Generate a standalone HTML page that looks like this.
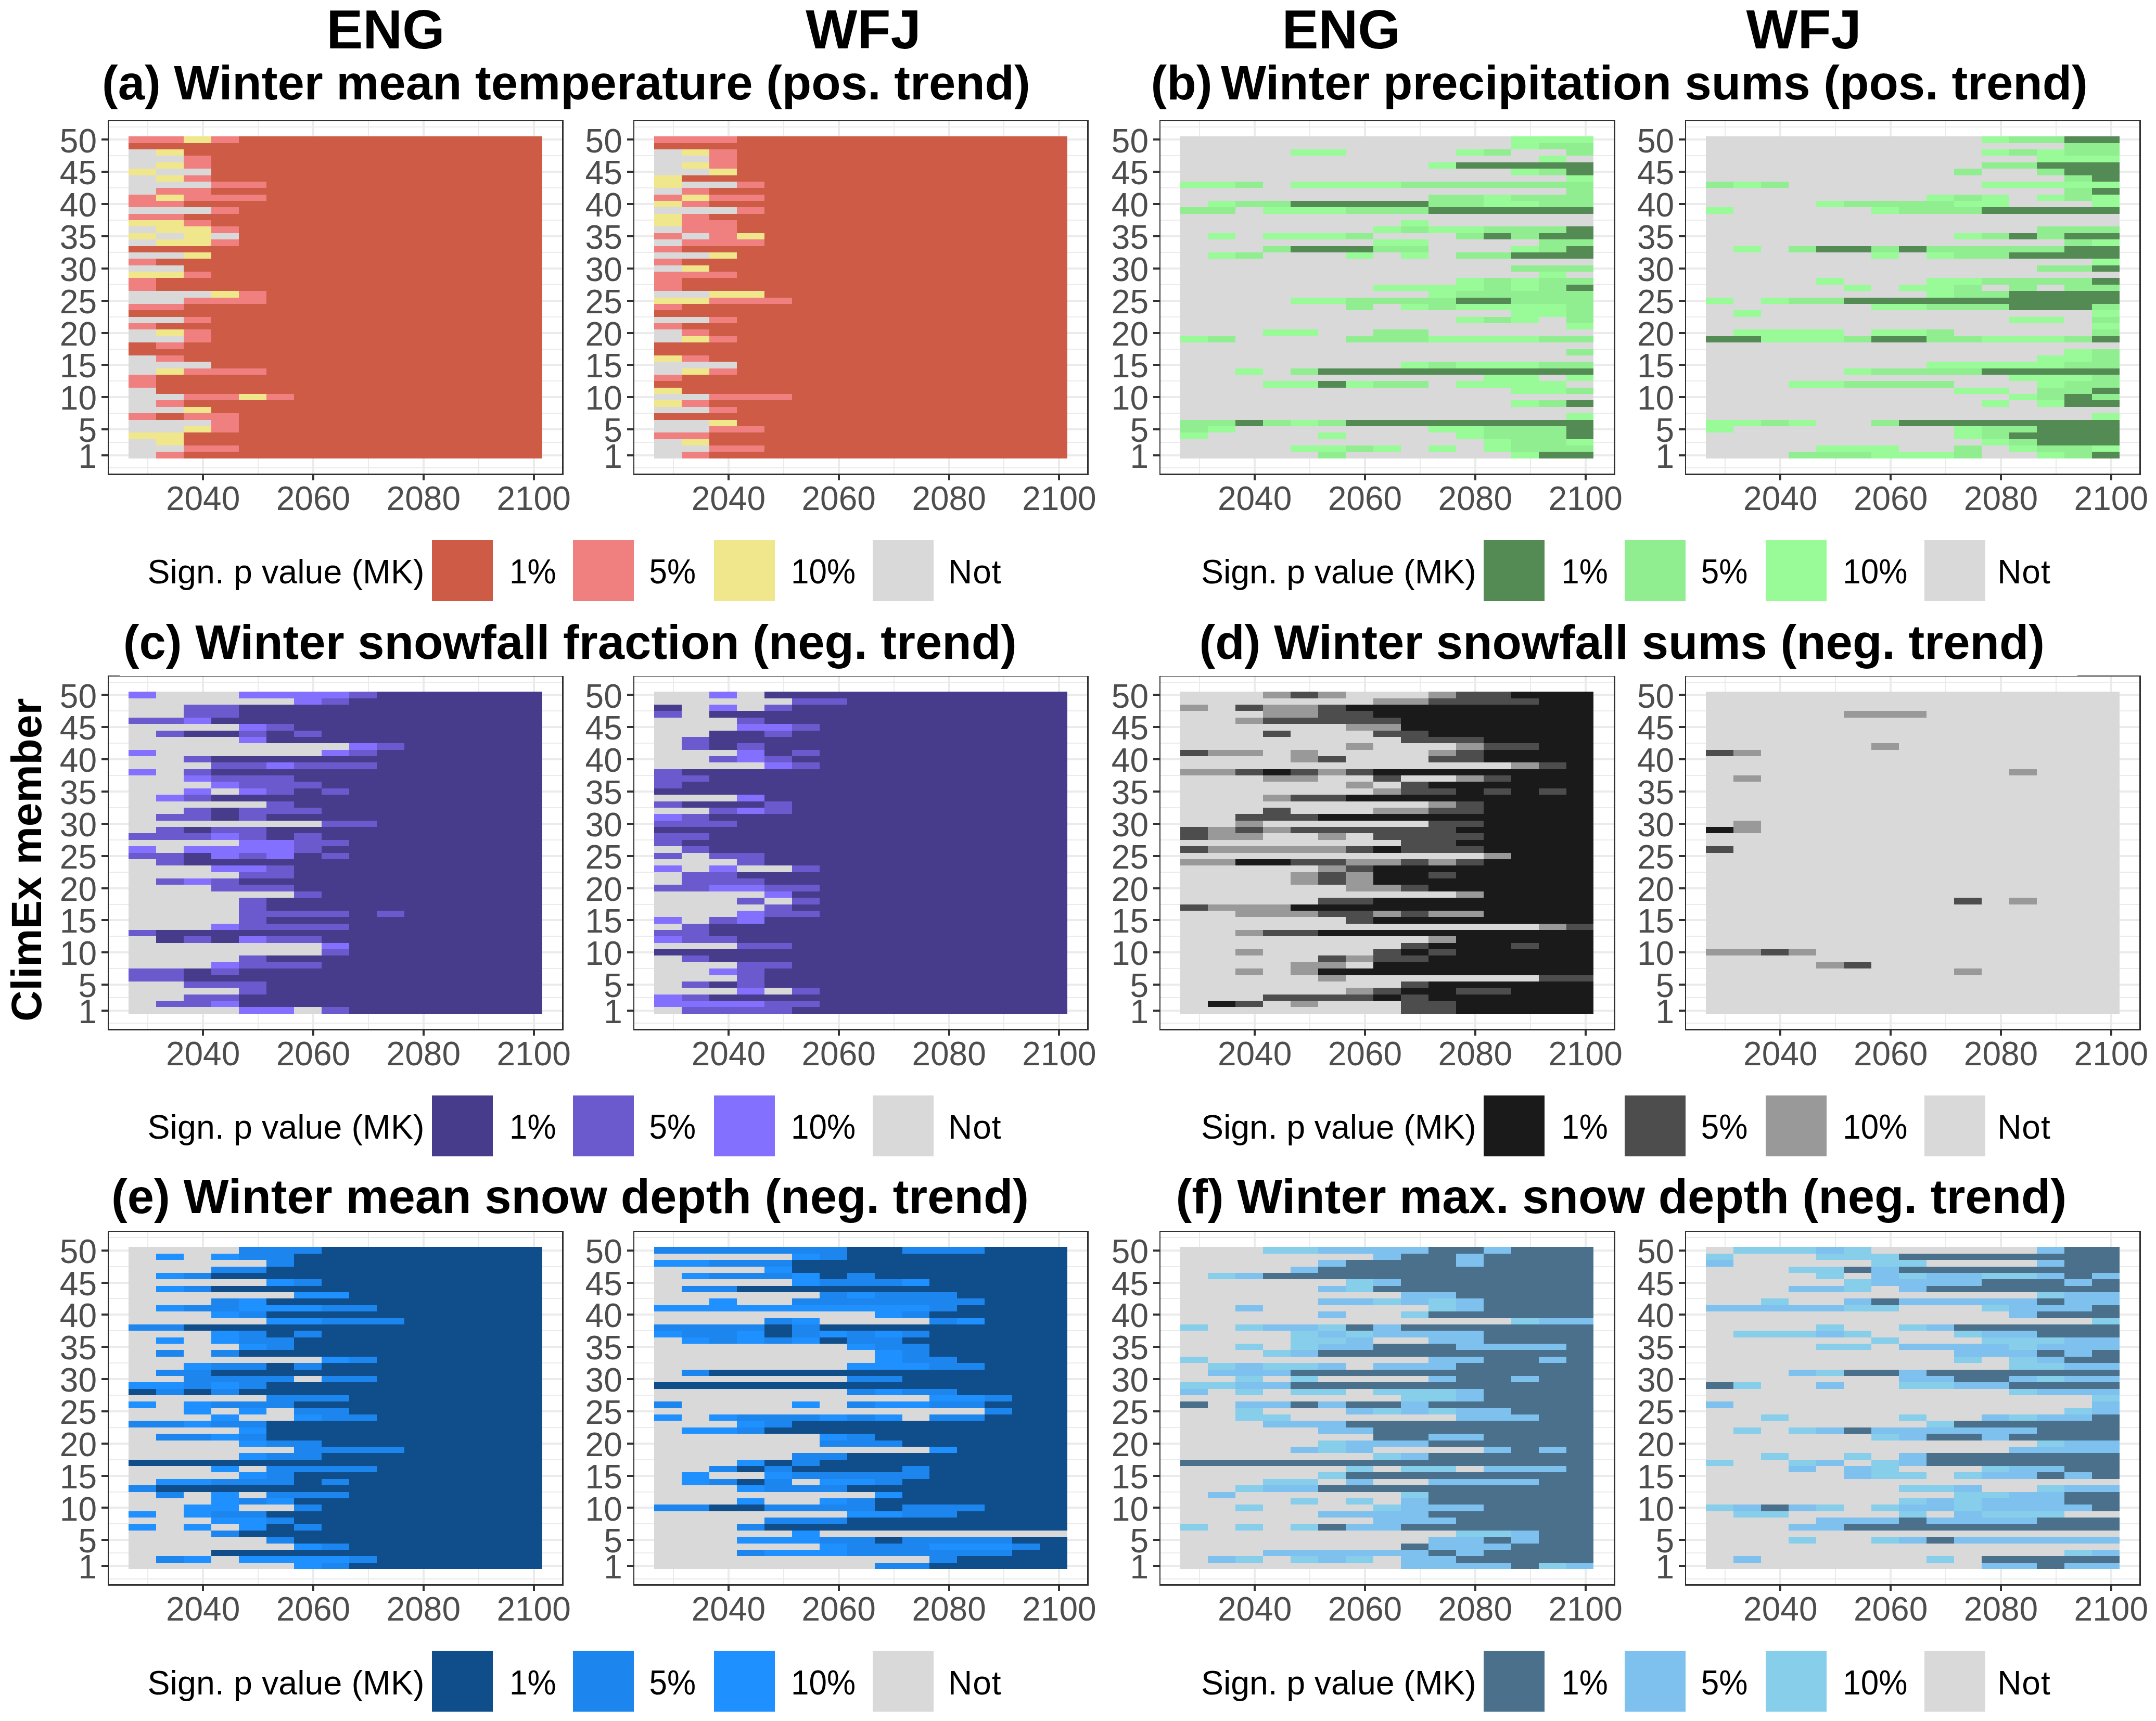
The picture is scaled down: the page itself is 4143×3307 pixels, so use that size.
<!DOCTYPE html>
<html><head><meta charset="utf-8"><title>Trend significance heatmaps</title>
<style>html,body{margin:0;padding:0;background:#fff}svg{display:block}text{font-family:"Liberation Sans",sans-serif}.ax{font-size:64px;fill:#4D4D4D}.lg{font-size:64.5px;fill:#000}.tt{font-size:92.3px;font-weight:bold;fill:#000}.lp{font-size:62px;fill:#000}.hd{font-size:105px;font-weight:bold;fill:#000;text-anchor:middle}</style></head><body>
<svg width="4143" height="3307" viewBox="0 0 4143 3307">
<rect width="4143" height="3307" fill="#fff"/>
<g shape-rendering="crispEdges"><path d="M209 899H1079.6M209 850H1079.6M209 794H1079.6M209 732H1079.6M209 671H1079.6M209 609H1079.6M209 547H1079.6M209 485H1079.6M209 423H1079.6M209 361H1079.6M209 299H1079.6M209 244H1079.6M284 233V910M496 233V910M708 233V910M920 233V910" stroke="#EBEBEB" stroke-width="2" fill="none"/><path d="M209 875H1079.6M209 825H1079.6M209 763H1079.6M209 701H1079.6M209 640H1079.6M209 578H1079.6M209 516H1079.6M209 454H1079.6M209 392H1079.6M209 330H1079.6M209 268H1079.6M390 233V910M602 233V910M814 233V910M1026 233V910" stroke="#EBEBEB" stroke-width="4" fill="none"/><rect x="247" y="262" width="795" height="619" fill="#CD5B45"/><path d="M247 287h53v12h-53zM247 299h106v13h-106zM247 312h53v12h-53zM300 324h106v13h-106zM247 337h53v12h-53zM247 349h159v12h-159zM247 361h53v13h-53zM247 398h159v13h-159zM247 435h53v13h-53zM300 448h53v12h-53zM406 448h53v12h-53zM247 460h53v13h-53zM247 485h106v12h-106zM247 510h106v12h-106zM247 559h159v13h-159zM247 572h106v12h-106zM247 609h106v12h-106zM247 633h53v13h-53zM247 646h106v12h-106zM247 683h53v12h-53zM247 695h159v13h-159zM247 708h53v12h-53zM247 745h53v12h-53zM247 757h106v12h-106zM247 769h53v13h-53zM247 782h106v12h-106zM247 807h159v12h-159zM247 819h106v12h-106zM247 844h53v12h-53zM247 856h106v12h-106zM247 868h53v13h-53z" fill="#D9D9D9"/><path d="M353 262h53v13h-53zM300 287h53v12h-53zM300 312h53v12h-53zM247 324h53v13h-53zM300 337h53v12h-53zM300 374h53v12h-53zM247 423h106v12h-106zM300 435h106v13h-106zM247 448h53v12h-53zM353 448h53v12h-53zM300 460h106v13h-106zM353 485h53v12h-53zM247 522h106v12h-106zM406 559h53v13h-53zM300 633h53v13h-53zM300 708h53v12h-53zM459 757h53v12h-53zM353 782h53v12h-53zM353 819h53v12h-53zM247 831h106v13h-106zM300 844h53v12h-53z" fill="#F0E68C"/><path d="M247 262h106v13h-106zM406 262h53v13h-53zM353 299h53v13h-53zM353 312h53v12h-53zM353 337h53v12h-53zM406 349h106v12h-106zM300 361h106v13h-106zM247 374h53v12h-53zM353 374h159v12h-159zM247 386h106v12h-106zM406 398h53v13h-53zM247 411h106v12h-106zM353 423h53v12h-53zM406 435h53v13h-53zM406 460h53v13h-53zM247 497h53v13h-53zM353 522h53v12h-53zM247 534h53v13h-53zM247 547h53v12h-53zM459 559h53v13h-53zM353 572h159v12h-159zM247 584h106v12h-106zM353 609h53v12h-53zM247 621h53v12h-53zM353 633h53v13h-53zM353 646h53v12h-53zM300 658h53v13h-53zM300 683h53v12h-53zM353 708h159v12h-159zM247 720h53v12h-53zM247 732h53v13h-53zM353 757h106v12h-106zM512 757h53v12h-53zM300 769h53v13h-53zM247 794h53v13h-53zM353 794h106v13h-106zM406 807h53v12h-53zM406 819h53v12h-53zM353 856h106v12h-106zM300 868h53v13h-53z" fill="#F08080"/><path d="M195 875H207M195 825H207M195 763H207M195 701H207M195 640H207M195 578H207M195 516H207M195 454H207M195 392H207M195 330H207M195 268H207M390 913V923M602 913V923M814 913V923M1026 913V923" stroke="#333" stroke-width="4" fill="none"/><path d="M207 231H1083V913H207z M209 233V910H1080V233z" fill="#303030" fill-rule="evenodd"/></g>
<text class="ax" text-anchor="end" x="186" y="898.6">1</text><text class="ax" text-anchor="end" x="186" y="849.1">5</text><text class="ax" text-anchor="end" x="186" y="787.3">10</text><text class="ax" text-anchor="end" x="186" y="725.4">15</text><text class="ax" text-anchor="end" x="186" y="663.6">20</text><text class="ax" text-anchor="end" x="186" y="601.7">25</text><text class="ax" text-anchor="end" x="186" y="539.9">30</text><text class="ax" text-anchor="end" x="186" y="478">35</text><text class="ax" text-anchor="end" x="186" y="416.2">40</text><text class="ax" text-anchor="end" x="186" y="354.3">45</text><text class="ax" text-anchor="end" x="186" y="292.5">50</text><text class="ax" text-anchor="middle" x="390.1" y="979.5">2040</text><text class="ax" text-anchor="middle" x="601.9" y="979.5">2060</text><text class="ax" text-anchor="middle" x="813.8" y="979.5">2080</text><text class="ax" text-anchor="middle" x="1025.6" y="979.5">2100</text>
<g shape-rendering="crispEdges"><path d="M1218.8 899H2089.4M1218.8 850H2089.4M1218.8 794H2089.4M1218.8 732H2089.4M1218.8 671H2089.4M1218.8 609H2089.4M1218.8 547H2089.4M1218.8 485H2089.4M1218.8 423H2089.4M1218.8 361H2089.4M1218.8 299H2089.4M1218.8 244H2089.4M1294 233V910M1506 233V910M1718 233V910M1929 233V910" stroke="#EBEBEB" stroke-width="2" fill="none"/><path d="M1218.8 875H2089.4M1218.8 825H2089.4M1218.8 763H2089.4M1218.8 701H2089.4M1218.8 640H2089.4M1218.8 578H2089.4M1218.8 516H2089.4M1218.8 454H2089.4M1218.8 392H2089.4M1218.8 330H2089.4M1218.8 268H2089.4M1400 233V910M1612 233V910M1824 233V910M2035 233V910" stroke="#EBEBEB" stroke-width="4" fill="none"/><rect x="1257" y="262" width="794" height="619" fill="#CD5B45"/><path d="M1257 287h53v12h-53zM1257 299h106v13h-106zM1257 312h53v12h-53zM1257 324h106v13h-106zM1310 349h106v12h-106zM1257 361h53v13h-53zM1257 398h159v13h-159zM1257 435h53v13h-53zM1310 448h53v12h-53zM1257 460h53v13h-53zM1257 485h106v12h-106zM1257 510h53v12h-53zM1257 559h106v13h-106zM1257 609h106v12h-106zM1257 633h53v13h-53zM1257 646h53v12h-53zM1257 695h159v13h-159zM1257 708h53v12h-53zM1257 757h106v12h-106zM1257 782h106v12h-106zM1257 807h106v12h-106zM1257 819h106v12h-106zM1257 844h53v12h-53zM1257 856h106v12h-106zM1257 868h53v13h-53z" fill="#D9D9D9"/><path d="M1310 287h53v12h-53zM1310 312h53v12h-53zM1363 324h53v13h-53zM1257 337h53v12h-53zM1257 349h53v12h-53zM1310 374h53v12h-53zM1257 386h53v12h-53zM1257 411h53v12h-53zM1257 423h53v12h-53zM1416 448h53v12h-53zM1363 485h53v12h-53zM1310 510h53v12h-53zM1363 559h106v13h-106zM1257 572h106v12h-106zM1310 646h53v12h-53zM1257 683h53v12h-53zM1310 708h53v12h-53zM1257 745h53v12h-53zM1257 769h53v13h-53zM1363 807h53v12h-53zM1310 844h53v12h-53z" fill="#F0E68C"/><path d="M1257 262h159v13h-159zM1363 287h53v12h-53zM1363 299h53v13h-53zM1363 312h53v12h-53zM1416 349h53v12h-53zM1310 361h53v13h-53zM1257 374h53v12h-53zM1363 374h106v12h-106zM1310 386h53v12h-53zM1416 398h53v13h-53zM1310 411h53v12h-53zM1310 423h106v12h-106zM1310 435h106v13h-106zM1257 448h53v12h-53zM1363 448h53v12h-53zM1310 460h159v13h-159zM1257 473h53v12h-53zM1257 497h53v13h-53zM1257 522h159v12h-159zM1257 534h53v13h-53zM1257 547h53v12h-53zM1363 572h159v12h-159zM1257 584h53v12h-53zM1363 609h53v12h-53zM1257 621h53v12h-53zM1310 633h53v13h-53zM1363 646h53v12h-53zM1310 683h53v12h-53zM1363 708h53v12h-53zM1257 720h53v12h-53zM1363 757h159v12h-159zM1310 769h53v13h-53zM1363 782h53v12h-53zM1363 819h106v12h-106zM1257 831h106v13h-106zM1363 856h106v12h-106zM1310 868h53v13h-53z" fill="#F08080"/><path d="M1205 875H1217M1205 825H1217M1205 763H1217M1205 701H1217M1205 640H1217M1205 578H1217M1205 516H1217M1205 454H1217M1205 392H1217M1205 330H1217M1205 268H1217M1400 913V923M1612 913V923M1824 913V923M2035 913V923" stroke="#333" stroke-width="4" fill="none"/><path d="M1217 231H2092V913H1217z M1219 233V910H2089V233z" fill="#303030" fill-rule="evenodd"/></g>
<text class="ax" text-anchor="end" x="1195.8" y="898.6">1</text><text class="ax" text-anchor="end" x="1195.8" y="849.1">5</text><text class="ax" text-anchor="end" x="1195.8" y="787.3">10</text><text class="ax" text-anchor="end" x="1195.8" y="725.4">15</text><text class="ax" text-anchor="end" x="1195.8" y="663.6">20</text><text class="ax" text-anchor="end" x="1195.8" y="601.7">25</text><text class="ax" text-anchor="end" x="1195.8" y="539.9">30</text><text class="ax" text-anchor="end" x="1195.8" y="478">35</text><text class="ax" text-anchor="end" x="1195.8" y="416.2">40</text><text class="ax" text-anchor="end" x="1195.8" y="354.3">45</text><text class="ax" text-anchor="end" x="1195.8" y="292.5">50</text><text class="ax" text-anchor="middle" x="1399.9" y="979.5">2040</text><text class="ax" text-anchor="middle" x="1611.7" y="979.5">2060</text><text class="ax" text-anchor="middle" x="1823.6" y="979.5">2080</text><text class="ax" text-anchor="middle" x="2035.4" y="979.5">2100</text>
<g shape-rendering="crispEdges"><path d="M2230 899H3100.6M2230 850H3100.6M2230 794H3100.6M2230 732H3100.6M2230 671H3100.6M2230 609H3100.6M2230 547H3100.6M2230 485H3100.6M2230 423H3100.6M2230 361H3100.6M2230 299H3100.6M2230 244H3100.6M2305 233V910M2517 233V910M2729 233V910M2941 233V910" stroke="#EBEBEB" stroke-width="2" fill="none"/><path d="M2230 875H3100.6M2230 825H3100.6M2230 763H3100.6M2230 701H3100.6M2230 640H3100.6M2230 578H3100.6M2230 516H3100.6M2230 454H3100.6M2230 392H3100.6M2230 330H3100.6M2230 268H3100.6M2411 233V910M2623 233V910M2835 233V910M3047 233V910" stroke="#EBEBEB" stroke-width="4" fill="none"/><rect x="2268" y="262" width="794" height="619" fill="#D9D9D9"/><path d="M2904 262h158v13h-158zM2904 275h53v12h-53zM2480 287h106v12h-106zM2798 287h53v12h-53zM2957 299h53v13h-53zM2745 312h53v12h-53zM2904 324h53v13h-53zM3010 337h52v12h-52zM2268 349h106v12h-106zM2480 349h212v12h-212zM2851 374h53v12h-53zM2321 386h53v12h-53zM2851 386h106v12h-106zM2427 398h159v13h-159zM2692 423h53v12h-53zM2639 435h53v13h-53zM2745 435h106v13h-106zM2321 448h53v12h-53zM2427 448h159v12h-159zM2639 460h106v13h-106zM2904 473h53v12h-53zM2321 485h53v12h-53zM2586 485h53v12h-53zM2692 485h53v12h-53zM2957 522h53v12h-53zM2798 534h53v13h-53zM2904 534h53v13h-53zM2639 547h212v12h-212zM2904 547h53v12h-53zM2745 559h53v13h-53zM2480 572h106v12h-106zM2692 584h53v12h-53zM2798 584h212v12h-212zM2904 596h106v13h-106zM2798 609h53v12h-53zM2904 609h53v12h-53zM3010 621h52v12h-52zM2427 633h106v13h-106zM2268 646h53v12h-53zM2745 646h212v12h-212zM2692 695h53v13h-53zM2798 695h159v13h-159zM2374 708h53v12h-53zM2851 720h106v12h-106zM3010 720h52v12h-52zM2427 732h106v13h-106zM2586 732h53v13h-53zM2798 732h212v13h-212zM2904 745h106v12h-106zM2904 769h53v13h-53zM3010 794h52v13h-52zM2480 807h53v12h-53zM2321 819h53v12h-53zM2745 819h106v12h-106zM2268 831h53v13h-53zM2533 831h53v13h-53zM2798 831h53v13h-53zM2851 844h53v12h-53zM3010 844h52v12h-52zM2480 856h106v12h-106zM2639 856h53v12h-53zM2745 856h53v12h-53zM2851 856h53v12h-53zM2904 868h53v13h-53z" fill="#98FB98"/><path d="M2957 275h105v12h-105zM2851 287h53v12h-53zM3010 287h52v12h-52zM2957 324h53v13h-53zM2374 349h53v12h-53zM2692 349h370v12h-370zM3010 361h52v13h-52zM2745 374h106v12h-106zM2904 374h158v12h-158zM2374 386h106v12h-106zM2745 386h106v12h-106zM2957 386h105v12h-105zM2268 398h106v13h-106zM2586 398h159v13h-159zM2692 435h53v13h-53zM2851 435h159v13h-159zM2586 448h53v12h-53zM2798 448h53v12h-53zM2904 448h53v12h-53zM2957 460h105v13h-105zM2427 473h53v12h-53zM2639 473h106v12h-106zM2957 473h53v12h-53zM2374 485h53v12h-53zM2798 485h106v12h-106zM2904 510h158v12h-158zM2851 534h53v13h-53zM2957 534h105v13h-105zM2851 547h53v12h-53zM2957 547h53v12h-53zM2798 559h264v13h-264zM2586 572h212v12h-212zM2904 572h158v12h-158zM2586 584h53v12h-53zM2745 584h53v12h-53zM3010 584h52v12h-52zM3010 596h52v13h-52zM2851 609h53v12h-53zM3010 609h52v12h-52zM2639 633h106v13h-106zM2321 646h53v12h-53zM2586 646h159v12h-159zM2957 646h105v12h-105zM3010 671h52v12h-52zM2745 695h53v13h-53zM2957 695h105v13h-105zM2480 708h53v12h-53zM2639 732h106v13h-106zM3010 745h52v12h-52zM2957 769h53v13h-53zM2268 807h106v12h-106zM2427 807h53v12h-53zM2533 807h53v12h-53zM2268 819h53v12h-53zM2851 819h159v12h-159zM2851 831h159v13h-159zM2904 844h106v12h-106zM2586 856h53v12h-53zM2904 856h158v12h-158zM2533 868h53v13h-53z" fill="#90EE90"/><path d="M2798 312h264v12h-264zM3010 324h52v13h-52zM2480 386h265v12h-265zM2745 398h317v13h-317zM3010 435h52v13h-52zM2851 448h53v12h-53zM2957 448h105v12h-105zM2480 473h159v12h-159zM3010 473h52v12h-52zM2904 485h158v12h-158zM3010 547h52v12h-52zM2798 572h106v12h-106zM2533 708h529v12h-529zM2533 732h53v13h-53zM3010 769h52v13h-52zM2374 807h53v12h-53zM2586 807h476v12h-476zM3010 819h52v12h-52zM3010 831h52v13h-52zM2957 868h105v13h-105z" fill="#548B54"/><path d="M2216 875H2228M2216 825H2228M2216 763H2228M2216 701H2228M2216 640H2228M2216 578H2228M2216 516H2228M2216 454H2228M2216 392H2228M2216 330H2228M2216 268H2228M2411 913V923M2623 913V923M2835 913V923M3047 913V923" stroke="#333" stroke-width="4" fill="none"/><path d="M2228 231H3104V913H2228z M2230 233V910H3101V233z" fill="#303030" fill-rule="evenodd"/></g>
<text class="ax" text-anchor="end" x="2207" y="898.6">1</text><text class="ax" text-anchor="end" x="2207" y="849.1">5</text><text class="ax" text-anchor="end" x="2207" y="787.3">10</text><text class="ax" text-anchor="end" x="2207" y="725.4">15</text><text class="ax" text-anchor="end" x="2207" y="663.6">20</text><text class="ax" text-anchor="end" x="2207" y="601.7">25</text><text class="ax" text-anchor="end" x="2207" y="539.9">30</text><text class="ax" text-anchor="end" x="2207" y="478">35</text><text class="ax" text-anchor="end" x="2207" y="416.2">40</text><text class="ax" text-anchor="end" x="2207" y="354.3">45</text><text class="ax" text-anchor="end" x="2207" y="292.5">50</text><text class="ax" text-anchor="middle" x="2411.1" y="979.5">2040</text><text class="ax" text-anchor="middle" x="2622.9" y="979.5">2060</text><text class="ax" text-anchor="middle" x="2834.8" y="979.5">2080</text><text class="ax" text-anchor="middle" x="3046.6" y="979.5">2100</text>
<g shape-rendering="crispEdges"><path d="M3240.2 899H4110.8M3240.2 850H4110.8M3240.2 794H4110.8M3240.2 732H4110.8M3240.2 671H4110.8M3240.2 609H4110.8M3240.2 547H4110.8M3240.2 485H4110.8M3240.2 423H4110.8M3240.2 361H4110.8M3240.2 299H4110.8M3240.2 244H4110.8M3315 233V910M3527 233V910M3739 233V910M3951 233V910" stroke="#EBEBEB" stroke-width="2" fill="none"/><path d="M3240.2 875H4110.8M3240.2 825H4110.8M3240.2 763H4110.8M3240.2 701H4110.8M3240.2 640H4110.8M3240.2 578H4110.8M3240.2 516H4110.8M3240.2 454H4110.8M3240.2 392H4110.8M3240.2 330H4110.8M3240.2 268H4110.8M3421 233V910M3633 233V910M3845 233V910M4057 233V910" stroke="#EBEBEB" stroke-width="4" fill="none"/><rect x="3278" y="262" width="795" height="619" fill="#D9D9D9"/><path d="M3808 262h53v13h-53zM3808 287h53v12h-53zM3914 287h53v12h-53zM3914 299h159v13h-159zM3331 349h53v12h-53zM3808 349h265v12h-265zM3702 374h53v12h-53zM3808 374h53v12h-53zM3914 374h53v12h-53zM4020 374h53v12h-53zM3490 386h53v12h-53zM3755 386h106v12h-106zM4020 386h53v12h-53zM3278 398h53v13h-53zM3596 398h53v13h-53zM3755 448h53v12h-53zM4020 460h53v13h-53zM3331 473h53v12h-53zM3596 485h53v12h-53zM3702 485h53v12h-53zM4020 497h53v13h-53zM3490 534h53v13h-53zM3702 534h106v13h-106zM3543 547h53v12h-53zM3649 547h106v12h-106zM3702 559h53v13h-53zM3278 572h53v12h-53zM3384 572h53v12h-53zM3596 584h106v12h-106zM3331 596h53v13h-53zM4020 596h53v13h-53zM3861 609h106v12h-106zM4020 621h53v12h-53zM3331 633h212v13h-212zM3596 633h106v13h-106zM3384 646h159v12h-159zM3808 646h159v12h-159zM3967 671h53v12h-53zM3914 683h106v12h-106zM3702 695h265v13h-265zM3543 708h53v12h-53zM3861 720h159v12h-159zM3437 732h106v13h-106zM3914 732h53v13h-53zM3755 745h106v12h-106zM3861 757h53v12h-53zM3808 769h53v13h-53zM3914 769h53v13h-53zM4020 794h53v13h-53zM3278 807h106v12h-106zM3437 807h53v12h-53zM3278 819h53v12h-53zM3755 819h53v12h-53zM3755 831h53v13h-53zM3808 844h53v12h-53zM3490 856h159v12h-159zM3861 856h53v12h-53zM4020 856h53v12h-53zM3596 868h159v13h-159zM3914 868h53v13h-53z" fill="#98FB98"/><path d="M3861 262h106v13h-106zM3967 275h106v12h-106zM3861 287h53v12h-53zM3967 287h106v12h-106zM3808 312h106v12h-106zM3755 324h53v13h-53zM3914 324h53v13h-53zM3967 337h53v12h-53zM3278 349h53v12h-53zM3384 349h53v12h-53zM3967 361h53v13h-53zM3755 374h53v12h-53zM3967 374h53v12h-53zM3543 386h212v12h-212zM3649 398h159v13h-159zM3914 435h159v13h-159zM3808 448h53v12h-53zM3914 448h53v12h-53zM3967 460h53v13h-53zM3437 473h53v12h-53zM3596 473h53v12h-53zM3702 473h265v12h-265zM3755 485h106v12h-106zM3914 510h106v12h-106zM3808 534h212v13h-212zM3755 547h53v12h-53zM3861 547h53v12h-53zM3967 547h106v12h-106zM3755 559h106v13h-106zM3437 572h106v12h-106zM3702 584h159v12h-159zM4020 584h53v12h-53zM4020 609h53v12h-53zM3702 633h53v13h-53zM4020 633h53v13h-53zM3543 646h53v12h-53zM3702 646h106v12h-106zM3967 646h53v12h-53zM4020 671h53v12h-53zM4020 683h53v12h-53zM3967 695h106v13h-106zM3596 708h212v12h-212zM4020 720h53v12h-53zM3543 732h212v13h-212zM3967 732h106v13h-106zM3914 745h106v12h-106zM3914 757h53v12h-53zM4020 757h53v12h-53zM3384 807h53v12h-53zM3596 807h53v12h-53zM3808 819h106v12h-106zM3808 831h53v13h-53zM3861 844h53v12h-53zM3755 856h53v12h-53zM3914 856h106v12h-106zM3437 868h159v13h-159zM3755 868h53v13h-53zM3967 868h53v13h-53z" fill="#90EE90"/><path d="M3967 262h106v13h-106zM3914 312h159v12h-159zM3967 324h106v13h-106zM4020 337h53v12h-53zM4020 361h53v13h-53zM3808 398h265v13h-265zM3861 448h53v12h-53zM3967 448h106v12h-106zM3490 473h106v12h-106zM3649 473h53v12h-53zM3967 473h106v12h-106zM3861 485h212v12h-212zM4020 510h53v12h-53zM4020 534h53v13h-53zM3861 559h212v13h-212zM3543 572h530v12h-530zM3861 584h159v12h-159zM3278 646h106v12h-106zM3596 646h106v12h-106zM4020 646h53v12h-53zM3808 708h265v12h-265zM4020 745h53v12h-53zM3967 757h53v12h-53zM3967 769h106v13h-106zM3649 807h424v12h-424zM3914 819h159v12h-159zM3861 831h212v13h-212zM3914 844h159v12h-159zM4020 868h53v13h-53z" fill="#548B54"/><path d="M3226 875H3238M3226 825H3238M3226 763H3238M3226 701H3238M3226 640H3238M3226 578H3238M3226 516H3238M3226 454H3238M3226 392H3238M3226 330H3238M3226 268H3238M3421 913V923M3633 913V923M3845 913V923M4057 913V923" stroke="#333" stroke-width="4" fill="none"/><path d="M3238 231H4114V913H3238z M3240 233V910H4111V233z" fill="#303030" fill-rule="evenodd"/></g>
<text class="ax" text-anchor="end" x="3217.2" y="898.6">1</text><text class="ax" text-anchor="end" x="3217.2" y="849.1">5</text><text class="ax" text-anchor="end" x="3217.2" y="787.3">10</text><text class="ax" text-anchor="end" x="3217.2" y="725.4">15</text><text class="ax" text-anchor="end" x="3217.2" y="663.6">20</text><text class="ax" text-anchor="end" x="3217.2" y="601.7">25</text><text class="ax" text-anchor="end" x="3217.2" y="539.9">30</text><text class="ax" text-anchor="end" x="3217.2" y="478">35</text><text class="ax" text-anchor="end" x="3217.2" y="416.2">40</text><text class="ax" text-anchor="end" x="3217.2" y="354.3">45</text><text class="ax" text-anchor="end" x="3217.2" y="292.5">50</text><text class="ax" text-anchor="middle" x="3421.3" y="979.5">2040</text><text class="ax" text-anchor="middle" x="3633.1" y="979.5">2060</text><text class="ax" text-anchor="middle" x="3845" y="979.5">2080</text><text class="ax" text-anchor="middle" x="4056.8" y="979.5">2100</text>
<g shape-rendering="crispEdges"><path d="M209 1966H1079.6M209 1917H1079.6M209 1861H1079.6M209 1799H1079.6M209 1738H1079.6M209 1676H1079.6M209 1614H1079.6M209 1552H1079.6M209 1490H1079.6M209 1428H1079.6M209 1366H1079.6M209 1311H1079.6M284 1300V1977M496 1300V1977M708 1300V1977M920 1300V1977" stroke="#EBEBEB" stroke-width="2" fill="none"/><path d="M209 1942H1079.6M209 1892H1079.6M209 1830H1079.6M209 1768H1079.6M209 1707H1079.6M209 1645H1079.6M209 1583H1079.6M209 1521H1079.6M209 1459H1079.6M209 1397H1079.6M209 1335H1079.6M390 1300V1977M602 1300V1977M814 1300V1977M1026 1300V1977" stroke="#EBEBEB" stroke-width="4" fill="none"/><rect x="247" y="1329" width="795" height="619" fill="#473C8B"/><path d="M300 1329h159v13h-159zM247 1342h318v12h-318zM247 1354h106v12h-106zM247 1366h106v13h-106zM247 1391h212v13h-212zM247 1404h53v12h-53zM247 1416h212v12h-212zM247 1428h424v13h-424zM300 1441h318v12h-318zM247 1453h106v12h-106zM247 1465h159v13h-159zM300 1478h53v12h-53zM247 1490h106v12h-106zM247 1502h159v13h-159zM247 1515h106v12h-106zM406 1515h53v12h-53zM247 1527h53v13h-53zM247 1540h265v12h-265zM247 1552h106v12h-106zM247 1564h53v13h-53zM247 1577h371v12h-371zM247 1589h53v12h-53zM247 1614h212v12h-212zM300 1626h53v13h-53zM247 1651h53v12h-53zM247 1663h159v13h-159zM247 1676h212v12h-212zM247 1688h53v12h-53zM247 1700h159v13h-159zM247 1713h318v12h-318zM247 1725h212v13h-212zM247 1738h212v12h-212zM247 1750h212v12h-212zM247 1762h212v13h-212zM247 1775h159v12h-159zM247 1799h53v13h-53zM247 1812h371v12h-371zM247 1824h371v12h-371zM247 1836h212v13h-212zM247 1849h159v12h-159zM247 1886h106v12h-106zM247 1898h212v13h-212zM247 1911h106v12h-106zM247 1923h53v12h-53zM247 1935h212v13h-212zM565 1935h53v13h-53z" fill="#D9D9D9"/><path d="M247 1329h53v13h-53zM459 1329h212v13h-212zM565 1342h53v12h-53zM353 1379h53v12h-53zM459 1391h53v13h-53zM459 1416h53v12h-53zM671 1428h53v13h-53zM247 1441h53v12h-53zM618 1441h53v12h-53zM512 1465h53v13h-53zM247 1478h53v12h-53zM353 1490h53v12h-53zM406 1502h53v13h-53zM353 1515h53v12h-53zM459 1515h53v12h-53zM300 1527h53v13h-53zM406 1601h53v13h-53zM459 1614h106v12h-106zM247 1626h53v13h-53zM353 1626h212v13h-212zM406 1639h53v12h-53zM512 1639h53v12h-53zM406 1663h106v13h-106zM353 1688h53v12h-53zM406 1775h53v12h-53zM459 1799h53v13h-53zM618 1812h53v12h-53zM406 1849h53v12h-53zM406 1923h53v12h-53zM459 1935h106v13h-106z" fill="#8470FF"/><path d="M671 1329h53v13h-53zM618 1342h53v12h-53zM353 1354h106v12h-106zM353 1366h106v13h-106zM247 1379h106v12h-106zM512 1391h53v13h-53zM300 1404h53v12h-53zM459 1404h53v12h-53zM565 1404h53v12h-53zM724 1428h53v13h-53zM671 1441h53v12h-53zM353 1453h53v12h-53zM406 1465h106v13h-106zM565 1465h159v13h-159zM353 1478h53v12h-53zM406 1490h159v12h-159zM459 1502h159v13h-159zM512 1515h53v12h-53zM618 1515h53v12h-53zM353 1527h53v13h-53zM512 1540h53v12h-53zM353 1552h53v12h-53zM459 1552h159v12h-159zM300 1564h106v13h-106zM459 1564h53v13h-53zM618 1577h106v12h-106zM300 1589h53v12h-53zM406 1589h106v12h-106zM247 1601h159v13h-159zM459 1601h53v13h-53zM565 1601h53v13h-53zM565 1614h106v12h-106zM565 1626h53v13h-53zM247 1639h106v12h-106zM459 1639h53v12h-53zM618 1639h53v12h-53zM300 1651h53v12h-53zM512 1663h53v13h-53zM459 1676h106v12h-106zM300 1688h53v12h-53zM406 1688h53v12h-53zM406 1700h159v13h-159zM565 1713h53v12h-53zM459 1725h53v13h-53zM459 1738h53v12h-53zM459 1750h212v12h-212zM724 1750h53v12h-53zM459 1762h53v13h-53zM459 1775h212v12h-212zM247 1787h53v12h-53zM353 1799h53v13h-53zM512 1799h106v13h-106zM618 1824h53v12h-53zM459 1836h53v13h-53zM459 1849h159v12h-159zM247 1861h106v13h-106zM406 1861h53v13h-53zM247 1874h106v12h-106zM353 1886h159v12h-159zM459 1898h53v13h-53zM353 1911h106v12h-106zM300 1923h106v12h-106zM618 1935h53v13h-53z" fill="#6A5ACD"/><path d="M195 1942H207M195 1892H207M195 1830H207M195 1768H207M195 1707H207M195 1645H207M195 1583H207M195 1521H207M195 1459H207M195 1397H207M195 1335H207M390 1980V1990M602 1980V1990M814 1980V1990M1026 1980V1990" stroke="#333" stroke-width="4" fill="none"/><path d="M207 1298H1083V1980H207z M209 1300V1977H1080V1300z" fill="#303030" fill-rule="evenodd"/></g>
<text class="ax" text-anchor="end" x="186" y="1965.6">1</text><text class="ax" text-anchor="end" x="186" y="1916.1">5</text><text class="ax" text-anchor="end" x="186" y="1854.3">10</text><text class="ax" text-anchor="end" x="186" y="1792.4">15</text><text class="ax" text-anchor="end" x="186" y="1730.6">20</text><text class="ax" text-anchor="end" x="186" y="1668.7">25</text><text class="ax" text-anchor="end" x="186" y="1606.9">30</text><text class="ax" text-anchor="end" x="186" y="1545">35</text><text class="ax" text-anchor="end" x="186" y="1483.2">40</text><text class="ax" text-anchor="end" x="186" y="1421.3">45</text><text class="ax" text-anchor="end" x="186" y="1359.5">50</text><text class="ax" text-anchor="middle" x="390.1" y="2046.5">2040</text><text class="ax" text-anchor="middle" x="601.9" y="2046.5">2060</text><text class="ax" text-anchor="middle" x="813.8" y="2046.5">2080</text><text class="ax" text-anchor="middle" x="1025.6" y="2046.5">2100</text>
<g shape-rendering="crispEdges"><path d="M1218.8 1966H2089.4M1218.8 1917H2089.4M1218.8 1861H2089.4M1218.8 1799H2089.4M1218.8 1738H2089.4M1218.8 1676H2089.4M1218.8 1614H2089.4M1218.8 1552H2089.4M1218.8 1490H2089.4M1218.8 1428H2089.4M1218.8 1366H2089.4M1218.8 1311H2089.4M1294 1300V1977M1506 1300V1977M1718 1300V1977M1929 1300V1977" stroke="#EBEBEB" stroke-width="2" fill="none"/><path d="M1218.8 1942H2089.4M1218.8 1892H2089.4M1218.8 1830H2089.4M1218.8 1768H2089.4M1218.8 1707H2089.4M1218.8 1645H2089.4M1218.8 1583H2089.4M1218.8 1521H2089.4M1218.8 1459H2089.4M1218.8 1397H2089.4M1218.8 1335H2089.4M1400 1300V1977M1612 1300V1977M1824 1300V1977M2035 1300V1977" stroke="#EBEBEB" stroke-width="4" fill="none"/><rect x="1257" y="1329" width="794" height="619" fill="#473C8B"/><path d="M1257 1329h106v13h-106zM1416 1329h53v13h-53zM1257 1342h265v12h-265zM1310 1354h53v12h-53zM1416 1354h53v12h-53zM1310 1366h53v13h-53zM1257 1379h159v12h-159zM1257 1391h159v13h-159zM1257 1404h106v12h-106zM1257 1416h53v12h-53zM1257 1428h53v13h-53zM1257 1441h159v12h-159zM1257 1453h106v12h-106zM1257 1465h212v13h-212zM1257 1527h159v13h-159zM1257 1552h106v12h-106zM1257 1626h53v13h-53zM1310 1639h53v12h-53zM1257 1651h159v12h-159zM1310 1663h53v13h-53zM1416 1663h106v13h-106zM1257 1676h53v12h-53zM1257 1688h53v12h-53zM1257 1713h212v12h-212zM1257 1725h159v13h-159zM1469 1725h53v13h-53zM1257 1738h212v12h-212zM1257 1750h159v12h-159zM1310 1762h53v13h-53zM1257 1775h53v12h-53zM1257 1812h159v12h-159zM1257 1836h53v13h-53zM1257 1849h159v12h-159zM1257 1861h106v13h-106zM1257 1874h159v12h-159zM1257 1886h53v12h-53zM1257 1898h159v13h-159zM1469 1898h53v13h-53zM1257 1935h53v13h-53z" fill="#D9D9D9"/><path d="M1363 1329h53v13h-53zM1363 1354h53v12h-53zM1416 1391h106v13h-106zM1416 1441h53v12h-53zM1416 1453h53v12h-53zM1469 1465h53v13h-53zM1416 1527h53v13h-53zM1416 1552h53v12h-53zM1257 1564h53v13h-53zM1257 1663h53v13h-53zM1363 1663h53v13h-53zM1363 1700h106v13h-106zM1469 1713h53v12h-53zM1416 1750h53v12h-53zM1257 1762h53v13h-53zM1416 1762h53v13h-53zM1257 1799h53v13h-53zM1363 1861h53v13h-53zM1416 1898h53v13h-53zM1257 1911h53v12h-53zM1257 1923h212v12h-212z" fill="#8470FF"/><path d="M1522 1342h106v12h-106zM1469 1354h53v12h-53zM1257 1366h53v13h-53zM1416 1379h53v12h-53zM1522 1391h53v13h-53zM1469 1404h53v12h-53zM1310 1416h53v12h-53zM1310 1428h53v13h-53zM1416 1428h53v13h-53zM1522 1441h53v12h-53zM1363 1453h53v12h-53zM1469 1453h53v12h-53zM1522 1465h53v13h-53zM1257 1478h53v12h-53zM1257 1490h106v12h-106zM1257 1502h53v13h-53zM1257 1540h53v12h-53zM1469 1540h53v12h-53zM1363 1552h53v12h-53zM1469 1552h53v12h-53zM1310 1564h53v13h-53zM1257 1577h159v12h-159zM1257 1601h106v13h-106zM1257 1614h53v12h-53zM1310 1626h53v13h-53zM1257 1639h53v12h-53zM1363 1639h106v12h-106zM1416 1651h53v12h-53zM1522 1663h53v13h-53zM1310 1676h106v12h-106zM1310 1688h159v12h-159zM1257 1700h106v13h-106zM1469 1700h106v13h-106zM1416 1725h53v13h-53zM1522 1725h53v13h-53zM1469 1738h53v12h-53zM1469 1750h106v12h-106zM1363 1762h53v13h-53zM1310 1775h53v12h-53zM1257 1787h106v12h-106zM1310 1799h106v13h-106zM1416 1812h106v12h-106zM1310 1836h53v13h-53zM1416 1849h106v12h-106zM1416 1861h53v13h-53zM1416 1874h53v12h-53zM1310 1886h53v12h-53zM1416 1886h53v12h-53zM1522 1898h53v13h-53zM1310 1911h53v12h-53zM1469 1923h106v12h-106zM1310 1935h212v13h-212z" fill="#6A5ACD"/><path d="M1205 1942H1217M1205 1892H1217M1205 1830H1217M1205 1768H1217M1205 1707H1217M1205 1645H1217M1205 1583H1217M1205 1521H1217M1205 1459H1217M1205 1397H1217M1205 1335H1217M1400 1980V1990M1612 1980V1990M1824 1980V1990M2035 1980V1990" stroke="#333" stroke-width="4" fill="none"/><path d="M1217 1298H2092V1980H1217z M1219 1300V1977H2089V1300z" fill="#303030" fill-rule="evenodd"/></g>
<text class="ax" text-anchor="end" x="1195.8" y="1965.6">1</text><text class="ax" text-anchor="end" x="1195.8" y="1916.1">5</text><text class="ax" text-anchor="end" x="1195.8" y="1854.3">10</text><text class="ax" text-anchor="end" x="1195.8" y="1792.4">15</text><text class="ax" text-anchor="end" x="1195.8" y="1730.6">20</text><text class="ax" text-anchor="end" x="1195.8" y="1668.7">25</text><text class="ax" text-anchor="end" x="1195.8" y="1606.9">30</text><text class="ax" text-anchor="end" x="1195.8" y="1545">35</text><text class="ax" text-anchor="end" x="1195.8" y="1483.2">40</text><text class="ax" text-anchor="end" x="1195.8" y="1421.3">45</text><text class="ax" text-anchor="end" x="1195.8" y="1359.5">50</text><text class="ax" text-anchor="middle" x="1399.9" y="2046.5">2040</text><text class="ax" text-anchor="middle" x="1611.7" y="2046.5">2060</text><text class="ax" text-anchor="middle" x="1823.6" y="2046.5">2080</text><text class="ax" text-anchor="middle" x="2035.4" y="2046.5">2100</text>
<g shape-rendering="crispEdges"><path d="M2230 1966H3100.6M2230 1917H3100.6M2230 1861H3100.6M2230 1799H3100.6M2230 1738H3100.6M2230 1676H3100.6M2230 1614H3100.6M2230 1552H3100.6M2230 1490H3100.6M2230 1428H3100.6M2230 1366H3100.6M2230 1311H3100.6M2305 1300V1977M2517 1300V1977M2729 1300V1977M2941 1300V1977" stroke="#EBEBEB" stroke-width="2" fill="none"/><path d="M2230 1942H3100.6M2230 1892H3100.6M2230 1830H3100.6M2230 1768H3100.6M2230 1707H3100.6M2230 1645H3100.6M2230 1583H3100.6M2230 1521H3100.6M2230 1459H3100.6M2230 1397H3100.6M2230 1335H3100.6M2411 1300V1977M2623 1300V1977M2835 1300V1977M3047 1300V1977" stroke="#EBEBEB" stroke-width="4" fill="none"/><rect x="2268" y="1329" width="794" height="619" fill="#1A1A1A"/><path d="M2268 1329h159v13h-159zM2586 1329h159v13h-159zM2268 1342h371v12h-371zM2321 1354h53v12h-53zM2268 1366h159v13h-159zM2268 1379h106v12h-106zM2268 1391h318v13h-318zM2268 1404h159v12h-159zM2480 1404h159v12h-159zM2268 1416h424v12h-424zM2268 1428h318v13h-318zM2639 1428h159v13h-159zM2427 1441h53v12h-53zM2533 1441h212v12h-212zM2268 1453h212v12h-212zM2586 1453h159v12h-159zM2268 1465h636v13h-636zM2268 1490h159v12h-159zM2533 1490h106v12h-106zM2692 1490h106v12h-106zM2268 1502h318v13h-318zM2639 1502h53v13h-53zM2268 1515h371v12h-371zM2268 1527h159v13h-159zM2268 1540h477v12h-477zM2268 1552h159v12h-159zM2480 1552h159v12h-159zM2268 1564h106v13h-106zM2268 1577h106v12h-106zM2427 1577h318v12h-318zM2427 1601h106v13h-106zM2586 1601h53v13h-53zM2268 1614h424v12h-424zM2268 1639h583v12h-583zM2268 1663h265v13h-265zM2268 1676h212v12h-212zM2268 1688h212v12h-212zM2268 1700h318v13h-318zM2268 1713h530v12h-530zM2268 1725h265v13h-265zM2268 1750h106v12h-106zM2268 1762h318v13h-318zM2268 1775h689v12h-689zM2268 1787h106v12h-106zM2268 1799h477v13h-477zM2268 1812h424v12h-424zM2268 1824h106v12h-106zM2427 1824h212v12h-212zM2268 1836h265v13h-265zM2268 1849h212v12h-212zM2586 1849h53v12h-53zM2268 1861h106v13h-106zM2427 1861h53v13h-53zM2268 1874h265v12h-265zM2586 1874h371v12h-371zM2268 1886h424v12h-424zM2268 1898h318v13h-318zM2268 1911h159v12h-159zM2268 1923h53v12h-53zM2427 1923h53v12h-53zM2533 1923h159v12h-159zM2268 1935h424v13h-424z" fill="#D9D9D9"/><path d="M2427 1329h53v13h-53zM2533 1329h53v13h-53zM2745 1329h53v13h-53zM2639 1342h106v12h-106zM2268 1354h53v12h-53zM2427 1354h106v12h-106zM2427 1366h106v13h-106zM2374 1379h53v12h-53zM2586 1391h106v13h-106zM2586 1428h53v13h-53zM2798 1428h53v13h-53zM2321 1441h106v12h-106zM2480 1441h53v12h-53zM2745 1441h53v12h-53zM2480 1453h53v12h-53zM2904 1465h53v13h-53zM2268 1478h106v12h-106zM2533 1478h53v12h-53zM2427 1490h106v12h-106zM2798 1490h53v12h-53zM2586 1502h53v13h-53zM2639 1515h53v12h-53zM2427 1527h53v13h-53zM2745 1540h53v12h-53zM2639 1552h106v12h-106zM2374 1577h53v12h-53zM2321 1589h53v12h-53zM2427 1589h53v12h-53zM2321 1601h106v13h-106zM2533 1601h53v13h-53zM2321 1626h265v13h-265zM2851 1639h53v12h-53zM2268 1651h106v12h-106zM2586 1651h106v12h-106zM2745 1651h53v12h-53zM2533 1663h53v13h-53zM2480 1676h53v12h-53zM2586 1676h53v12h-53zM2480 1688h53v12h-53zM2586 1688h53v12h-53zM2586 1700h106v13h-106zM2798 1713h53v12h-53zM2321 1738h159v12h-159zM2374 1750h159v12h-159zM2639 1750h53v12h-53zM2745 1750h106v12h-106zM2957 1775h53v12h-53zM2374 1787h53v12h-53zM2745 1799h53v13h-53zM2374 1824h53v12h-53zM2586 1836h53v13h-53zM2480 1849h106v12h-106zM2374 1861h53v13h-53zM2480 1861h53v13h-53zM2533 1874h53v12h-53zM2586 1898h53v13h-53zM2480 1923h53v12h-53z" fill="#999999"/><path d="M2480 1329h53v13h-53zM2798 1329h106v13h-106zM2745 1342h212v12h-212zM2374 1354h53v12h-53zM2533 1354h53v12h-53zM2533 1366h106v13h-106zM2427 1379h265v12h-265zM2427 1404h53v12h-53zM2639 1404h106v12h-106zM2692 1416h159v12h-159zM2851 1428h106v13h-106zM2268 1441h53v12h-53zM2798 1441h53v12h-53zM2533 1453h53v12h-53zM2745 1453h106v12h-106zM2957 1465h53v13h-53zM2374 1478h53v12h-53zM2480 1478h53v12h-53zM2586 1478h53v12h-53zM2639 1490h53v12h-53zM2851 1490h53v12h-53zM2692 1502h53v13h-53zM2692 1515h106v12h-106zM2851 1515h53v12h-53zM2957 1515h53v12h-53zM2480 1527h106v13h-106zM2798 1540h53v12h-53zM2427 1552h53v12h-53zM2745 1552h106v12h-106zM2374 1564h159v13h-159zM2745 1577h106v12h-106zM2268 1589h53v12h-53zM2374 1589h53v12h-53zM2480 1589h318v12h-318zM2268 1601h53v13h-53zM2639 1601h212v13h-212zM2692 1614h106v12h-106zM2268 1626h53v13h-53zM2586 1626h53v13h-53zM2692 1626h159v13h-159zM2480 1651h106v12h-106zM2692 1651h53v12h-53zM2798 1651h53v12h-53zM2586 1663h53v13h-53zM2533 1676h53v12h-53zM2745 1676h53v12h-53zM2533 1688h53v12h-53zM2692 1700h53v13h-53zM2533 1725h106v13h-106zM2268 1738h53v12h-53zM2533 1750h106v12h-106zM2692 1750h53v12h-53zM2586 1762h53v13h-53zM3010 1775h52v12h-52zM2427 1787h106v12h-106zM2692 1812h53v12h-53zM2904 1812h53v12h-53zM2639 1824h53v12h-53zM2745 1824h53v12h-53zM2533 1836h53v13h-53zM2639 1836h106v13h-106zM2957 1874h105v12h-105zM2692 1886h53v12h-53zM2639 1898h53v13h-53zM2798 1898h106v13h-106zM2427 1911h212v12h-212zM2692 1911h53v12h-53zM2374 1923h53v12h-53zM2692 1923h106v12h-106zM2692 1935h106v13h-106z" fill="#4D4D4D"/><path d="M2216 1942H2228M2216 1892H2228M2216 1830H2228M2216 1768H2228M2216 1707H2228M2216 1645H2228M2216 1583H2228M2216 1521H2228M2216 1459H2228M2216 1397H2228M2216 1335H2228M2411 1980V1990M2623 1980V1990M2835 1980V1990M3047 1980V1990" stroke="#333" stroke-width="4" fill="none"/><path d="M2228 1298H3104V1980H2228z M2230 1300V1977H3101V1300z" fill="#303030" fill-rule="evenodd"/></g>
<text class="ax" text-anchor="end" x="2207" y="1965.6">1</text><text class="ax" text-anchor="end" x="2207" y="1916.1">5</text><text class="ax" text-anchor="end" x="2207" y="1854.3">10</text><text class="ax" text-anchor="end" x="2207" y="1792.4">15</text><text class="ax" text-anchor="end" x="2207" y="1730.6">20</text><text class="ax" text-anchor="end" x="2207" y="1668.7">25</text><text class="ax" text-anchor="end" x="2207" y="1606.9">30</text><text class="ax" text-anchor="end" x="2207" y="1545">35</text><text class="ax" text-anchor="end" x="2207" y="1483.2">40</text><text class="ax" text-anchor="end" x="2207" y="1421.3">45</text><text class="ax" text-anchor="end" x="2207" y="1359.5">50</text><text class="ax" text-anchor="middle" x="2411.1" y="2046.5">2040</text><text class="ax" text-anchor="middle" x="2622.9" y="2046.5">2060</text><text class="ax" text-anchor="middle" x="2834.8" y="2046.5">2080</text><text class="ax" text-anchor="middle" x="3046.6" y="2046.5">2100</text>
<g shape-rendering="crispEdges"><path d="M3240.2 1966H4110.8M3240.2 1917H4110.8M3240.2 1861H4110.8M3240.2 1799H4110.8M3240.2 1738H4110.8M3240.2 1676H4110.8M3240.2 1614H4110.8M3240.2 1552H4110.8M3240.2 1490H4110.8M3240.2 1428H4110.8M3240.2 1366H4110.8M3240.2 1311H4110.8M3315 1300V1977M3527 1300V1977M3739 1300V1977M3951 1300V1977" stroke="#EBEBEB" stroke-width="2" fill="none"/><path d="M3240.2 1942H4110.8M3240.2 1892H4110.8M3240.2 1830H4110.8M3240.2 1768H4110.8M3240.2 1707H4110.8M3240.2 1645H4110.8M3240.2 1583H4110.8M3240.2 1521H4110.8M3240.2 1459H4110.8M3240.2 1397H4110.8M3240.2 1335H4110.8M3421 1300V1977M3633 1300V1977M3845 1300V1977M4057 1300V1977" stroke="#EBEBEB" stroke-width="4" fill="none"/><rect x="3278" y="1329" width="795" height="619" fill="#D9D9D9"/><path d="M3543 1366h159v13h-159zM3596 1428h53v13h-53zM3331 1441h53v12h-53zM3861 1478h53v12h-53zM3331 1490h53v12h-53zM3331 1577h53v12h-53zM3331 1589h53v12h-53zM3861 1725h53v13h-53zM3278 1824h106v12h-106zM3437 1824h53v12h-53zM3490 1849h53v12h-53zM3755 1861h53v13h-53z" fill="#999999"/><path d="M3278 1441h53v12h-53zM3278 1626h53v13h-53zM3755 1725h53v13h-53zM3384 1824h53v12h-53zM3543 1849h53v12h-53z" fill="#4D4D4D"/><path d="M3278 1589h53v12h-53z" fill="#1A1A1A"/><path d="M3226 1942H3238M3226 1892H3238M3226 1830H3238M3226 1768H3238M3226 1707H3238M3226 1645H3238M3226 1583H3238M3226 1521H3238M3226 1459H3238M3226 1397H3238M3226 1335H3238M3421 1980V1990M3633 1980V1990M3845 1980V1990M4057 1980V1990" stroke="#333" stroke-width="4" fill="none"/><path d="M3238 1298H4114V1980H3238z M3240 1300V1977H4111V1300z" fill="#303030" fill-rule="evenodd"/></g>
<text class="ax" text-anchor="end" x="3217.2" y="1965.6">1</text><text class="ax" text-anchor="end" x="3217.2" y="1916.1">5</text><text class="ax" text-anchor="end" x="3217.2" y="1854.3">10</text><text class="ax" text-anchor="end" x="3217.2" y="1792.4">15</text><text class="ax" text-anchor="end" x="3217.2" y="1730.6">20</text><text class="ax" text-anchor="end" x="3217.2" y="1668.7">25</text><text class="ax" text-anchor="end" x="3217.2" y="1606.9">30</text><text class="ax" text-anchor="end" x="3217.2" y="1545">35</text><text class="ax" text-anchor="end" x="3217.2" y="1483.2">40</text><text class="ax" text-anchor="end" x="3217.2" y="1421.3">45</text><text class="ax" text-anchor="end" x="3217.2" y="1359.5">50</text><text class="ax" text-anchor="middle" x="3421.3" y="2046.5">2040</text><text class="ax" text-anchor="middle" x="3633.1" y="2046.5">2060</text><text class="ax" text-anchor="middle" x="3845" y="2046.5">2080</text><text class="ax" text-anchor="middle" x="4056.8" y="2046.5">2100</text>
<g shape-rendering="crispEdges"><path d="M209 3034H1079.6M209 2984H1079.6M209 2928H1079.6M209 2867H1079.6M209 2805H1079.6M209 2743H1079.6M209 2681H1079.6M209 2619H1079.6M209 2557H1079.6M209 2495H1079.6M209 2434H1079.6M209 2378H1079.6M284 2367.2V3044.2M496 2367.2V3044.2M708 2367.2V3044.2M920 2367.2V3044.2" stroke="#EBEBEB" stroke-width="2" fill="none"/><path d="M209 3009H1079.6M209 2959H1079.6M209 2897H1079.6M209 2836H1079.6M209 2774H1079.6M209 2712H1079.6M209 2650H1079.6M209 2588H1079.6M209 2526H1079.6M209 2465H1079.6M209 2403H1079.6M390 2367.2V3044.2M602 2367.2V3044.2M814 2367.2V3044.2M1026 2367.2V3044.2" stroke="#EBEBEB" stroke-width="4" fill="none"/><rect x="247" y="2396" width="795" height="619" fill="#104E8B"/><path d="M247 2396h212v13h-212zM247 2409h53v12h-53zM353 2409h53v12h-53zM247 2421h265v13h-265zM247 2434h159v12h-159zM247 2446h53v12h-53zM247 2458h265v13h-265zM247 2471h53v12h-53zM247 2483h318v12h-318zM247 2495h159v13h-159zM247 2508h53v12h-53zM247 2520h159v13h-159zM247 2533h265v12h-265zM247 2557h159v13h-159zM247 2570h53v12h-53zM353 2570h53v12h-53zM247 2582h212v12h-212zM247 2594h53v13h-53zM353 2594h53v13h-53zM247 2607h371v12h-371zM247 2619h106v13h-106zM247 2632h53v12h-53zM247 2644h106v12h-106zM565 2644h53v12h-53zM247 2681h265v12h-265zM300 2693h53v13h-53zM247 2706h106v12h-106zM406 2706h53v12h-53zM512 2706h53v12h-53zM247 2718h159v12h-159zM459 2718h106v12h-106zM247 2743h212v12h-212zM247 2755h53v13h-53zM247 2768h212v12h-212zM247 2780h318v12h-318zM247 2792h212v13h-212zM247 2817h159v12h-159zM459 2817h53v12h-53zM247 2829h212v13h-212zM247 2842h53v12h-53zM247 2867h53v12h-53zM353 2867h53v12h-53zM459 2867h53v12h-53zM247 2879h159v12h-159zM247 2891h106v13h-106zM459 2891h106v13h-106zM300 2904h53v12h-53zM247 2916h159v12h-159zM300 2928h53v13h-53zM406 2928h53v13h-53zM247 2941h159v12h-159zM247 2953h265v13h-265zM247 2966h318v12h-318zM247 2978h159v12h-159zM247 2990h53v13h-53zM406 2990h53v13h-53zM247 3003h318v12h-318z" fill="#D9D9D9"/><path d="M300 2409h53v12h-53zM406 2409h53v12h-53zM300 2446h53v12h-53zM512 2458h53v13h-53zM300 2471h53v12h-53zM565 2483h106v12h-106zM459 2495h53v13h-53zM300 2508h53v12h-53zM459 2508h159v12h-159zM406 2520h53v13h-53zM512 2533h106v12h-106zM406 2557h53v13h-53zM300 2570h53v12h-53zM406 2570h53v12h-53zM459 2582h53v12h-53zM618 2607h53v12h-53zM353 2619h53v13h-53zM247 2656h106v13h-106zM406 2656h53v13h-53zM247 2693h53v13h-53zM353 2693h53v13h-53zM353 2706h53v12h-53zM459 2706h53v12h-53zM406 2718h53v12h-53zM565 2718h53v12h-53zM353 2730h53v13h-53zM459 2743h53v12h-53zM406 2755h53v13h-53zM459 2768h53v12h-53zM459 2792h53v13h-53zM406 2817h53v12h-53zM459 2829h53v13h-53zM300 2842h106v12h-106zM406 2867h53v12h-53zM406 2879h53v12h-53zM512 2879h53v12h-53zM353 2891h106v13h-106zM247 2904h53v12h-53zM353 2904h53v12h-53zM406 2916h106v12h-106zM247 2928h53v13h-53zM353 2928h53v13h-53zM459 2928h53v13h-53zM565 2966h53v12h-53zM353 2990h53v13h-53zM459 2990h212v13h-212zM565 3003h53v12h-53z" fill="#1E90FF"/><path d="M459 2396h159v13h-159zM459 2409h106v12h-106zM512 2421h53v13h-53zM406 2434h106v12h-106zM353 2446h53v12h-53zM565 2458h53v13h-53zM353 2471h53v12h-53zM406 2495h53v13h-53zM353 2508h106v12h-106zM618 2508h106v12h-106zM459 2520h53v13h-53zM618 2533h159v12h-159zM247 2545h106v12h-106zM459 2557h53v13h-53zM565 2557h53v13h-53zM459 2570h106v12h-106zM512 2582h53v12h-53zM300 2594h53v13h-53zM406 2594h53v13h-53zM671 2607h53v12h-53zM406 2619h106v13h-106zM565 2619h53v13h-53zM300 2632h106v12h-106zM353 2644h212v12h-212zM618 2644h106v12h-106zM353 2656h53v13h-53zM459 2656h53v13h-53zM300 2669h53v12h-53zM406 2669h53v12h-53zM512 2681h159v12h-159zM406 2693h159v13h-159zM565 2706h106v12h-106zM618 2718h106v12h-106zM247 2730h106v13h-106zM406 2730h106v13h-106zM300 2755h106v13h-106zM459 2755h53v13h-53zM512 2768h106v12h-106zM565 2780h212v12h-212zM512 2792h106v13h-106zM512 2817h212v12h-212zM512 2829h53v13h-53zM406 2842h159v12h-159zM618 2842h53v12h-53zM247 2854h53v13h-53zM300 2867h53v12h-53zM512 2867h159v12h-159zM459 2879h53v12h-53zM565 2891h53v13h-53zM406 2904h106v12h-106zM512 2916h53v12h-53zM565 2928h53v13h-53zM406 2941h53v12h-53zM512 2953h53v13h-53zM618 2966h53v12h-53zM300 2990h53v13h-53zM671 2990h53v13h-53zM618 3003h53v12h-53z" fill="#1C86EE"/><path d="M195 3009H207M195 2959H207M195 2897H207M195 2836H207M195 2774H207M195 2712H207M195 2650H207M195 2588H207M195 2526H207M195 2465H207M195 2403H207M390 3047V3057M602 3047V3057M814 3047V3057M1026 3047V3057" stroke="#333" stroke-width="4" fill="none"/><path d="M207 2365H1083V3047H207z M209 2367V3044H1080V2367z" fill="#303030" fill-rule="evenodd"/></g>
<text class="ax" text-anchor="end" x="186" y="3032.8">1</text><text class="ax" text-anchor="end" x="186" y="2983.3">5</text><text class="ax" text-anchor="end" x="186" y="2921.5">10</text><text class="ax" text-anchor="end" x="186" y="2859.6">15</text><text class="ax" text-anchor="end" x="186" y="2797.8">20</text><text class="ax" text-anchor="end" x="186" y="2735.9">25</text><text class="ax" text-anchor="end" x="186" y="2674.1">30</text><text class="ax" text-anchor="end" x="186" y="2612.2">35</text><text class="ax" text-anchor="end" x="186" y="2550.4">40</text><text class="ax" text-anchor="end" x="186" y="2488.5">45</text><text class="ax" text-anchor="end" x="186" y="2426.7">50</text><text class="ax" text-anchor="middle" x="390.1" y="3113.7">2040</text><text class="ax" text-anchor="middle" x="601.9" y="3113.7">2060</text><text class="ax" text-anchor="middle" x="813.8" y="3113.7">2080</text><text class="ax" text-anchor="middle" x="1025.6" y="3113.7">2100</text>
<g shape-rendering="crispEdges"><path d="M1218.8 3034H2089.4M1218.8 2984H2089.4M1218.8 2928H2089.4M1218.8 2867H2089.4M1218.8 2805H2089.4M1218.8 2743H2089.4M1218.8 2681H2089.4M1218.8 2619H2089.4M1218.8 2557H2089.4M1218.8 2495H2089.4M1218.8 2434H2089.4M1218.8 2378H2089.4M1294 2367.2V3044.2M1506 2367.2V3044.2M1718 2367.2V3044.2M1929 2367.2V3044.2" stroke="#EBEBEB" stroke-width="2" fill="none"/><path d="M1218.8 3009H2089.4M1218.8 2959H2089.4M1218.8 2897H2089.4M1218.8 2836H2089.4M1218.8 2774H2089.4M1218.8 2712H2089.4M1218.8 2650H2089.4M1218.8 2588H2089.4M1218.8 2526H2089.4M1218.8 2465H2089.4M1218.8 2403H2089.4M1400 2367.2V3044.2M1612 2367.2V3044.2M1824 2367.2V3044.2M2035 2367.2V3044.2" stroke="#EBEBEB" stroke-width="4" fill="none"/><rect x="1257" y="2396" width="794" height="619" fill="#104E8B"/><path d="M1257 2409h265v12h-265zM1257 2434h212v12h-212zM1257 2446h53v12h-53zM1257 2458h265v13h-265zM1257 2471h53v12h-53zM1257 2483h318v12h-318zM1257 2495h106v13h-106zM1416 2495h106v13h-106zM1257 2520h424v13h-424zM1257 2533h212v12h-212zM1575 2533h211v12h-211zM1257 2570h53v12h-53zM1257 2582h371v12h-371zM1257 2594h424v13h-424zM1257 2607h424v12h-424zM1257 2619h371v13h-371zM1257 2632h53v12h-53zM1257 2644h371v12h-371zM1257 2669h371v12h-371zM1257 2681h529v12h-529zM1310 2693h212v13h-212zM1575 2693h53v13h-53zM1257 2706h635v12h-635zM1310 2718h53v12h-53zM1734 2718h52v12h-52zM1257 2730h159v13h-159zM1257 2743h53v12h-53zM1257 2755h318v13h-318zM1257 2768h318v12h-318zM1257 2780h529v12h-529zM1257 2792h265v13h-265zM1257 2805h159v12h-159zM1257 2817h106v12h-106zM1257 2829h53v13h-53zM1363 2829h106v13h-106zM1257 2842h53v12h-53zM1522 2842h53v12h-53zM1257 2854h159v13h-159zM1257 2867h424v12h-424zM1257 2879h159v12h-159zM1469 2879h106v12h-106zM1257 2904h371v12h-371zM1257 2916h212v12h-212zM1257 2928h159v13h-159zM1257 2941h265v12h-265zM1575 2941h476v12h-476zM1257 2953h159v13h-159zM1257 2966h318v12h-318zM1257 2978h159v12h-159zM1257 2990h529v13h-529zM1257 3003h424v12h-424z" fill="#D9D9D9"/><path d="M1522 2409h53v12h-53zM1257 2421h106v13h-106zM1469 2434h53v12h-53zM1310 2446h53v12h-53zM1522 2446h53v12h-53zM1522 2458h53v13h-53zM1734 2458h52v13h-52zM1628 2483h53v12h-53zM1363 2495h53v13h-53zM1257 2508h529v12h-529zM1681 2520h53v13h-53zM1522 2533h53v12h-53zM1839 2533h53v12h-53zM1257 2557h53v13h-53zM1416 2557h53v13h-53zM1575 2557h53v13h-53zM1681 2557h53v13h-53zM1310 2570h53v12h-53zM1416 2570h53v12h-53zM1522 2570h53v12h-53zM1628 2582h53v12h-53zM1681 2594h53v13h-53zM1681 2607h53v12h-53zM1628 2619h158v13h-158zM1681 2669h53v12h-53zM1786 2681h106v12h-106zM1522 2693h53v13h-53zM1681 2693h105v13h-105zM1257 2718h53v12h-53zM1363 2718h53v12h-53zM1575 2718h53v12h-53zM1681 2718h53v12h-53zM1416 2730h53v13h-53zM1310 2743h106v12h-106zM1575 2755h53v13h-53zM1786 2780h53v12h-53zM1416 2805h53v12h-53zM1310 2829h53v13h-53zM1469 2829h53v13h-53zM1310 2842h53v12h-53zM1575 2842h106v12h-106zM1416 2854h53v13h-53zM1681 2867h53v12h-53zM1416 2879h53v12h-53zM1575 2879h53v12h-53zM1628 2904h106v12h-106zM1522 2941h53v12h-53zM1416 2953h159v13h-159zM1575 2966h53v12h-53zM1786 2966h159v12h-159zM1469 2978h159v12h-159z" fill="#1E90FF"/><path d="M1257 2396h371v13h-371zM1734 2396h158v13h-158zM1575 2409h53v12h-53zM1363 2421h159v13h-159zM1363 2446h159v12h-159zM1628 2446h53v12h-53zM1575 2458h159v13h-159zM1310 2471h106v12h-106zM1575 2483h53v12h-53zM1681 2483h158v12h-158zM1522 2495h370v13h-370zM1786 2508h53v12h-53zM1734 2520h52v13h-52zM1469 2533h53v12h-53zM1786 2533h53v12h-53zM1257 2545h212v12h-212zM1522 2545h53v12h-53zM1310 2557h106v13h-106zM1522 2557h53v13h-53zM1628 2557h53v13h-53zM1734 2557h52v13h-52zM1363 2570h53v12h-53zM1469 2570h53v12h-53zM1628 2570h106v12h-106zM1681 2582h105v12h-105zM1734 2594h52v13h-52zM1734 2607h105v12h-105zM1786 2619h106v13h-106zM1310 2632h53v12h-53zM1628 2644h106v12h-106zM1628 2669h53v12h-53zM1734 2669h105v12h-105zM1892 2681h53v12h-53zM1257 2693h53v13h-53zM1628 2693h53v13h-53zM1786 2693h106v13h-106zM1892 2706h53v12h-53zM1416 2718h159v12h-159zM1628 2718h53v12h-53zM1786 2718h106v12h-106zM1469 2730h53v13h-53zM1416 2743h53v12h-53zM1628 2755h53v13h-53zM1575 2768h159v12h-159zM1522 2792h106v13h-106zM1522 2805h53v12h-53zM1363 2817h53v12h-53zM1469 2817h53v12h-53zM1734 2817h52v12h-52zM1522 2829h264v13h-264zM1363 2842h53v12h-53zM1469 2842h53v12h-53zM1681 2842h53v12h-53zM1469 2854h159v13h-159zM1628 2879h53v12h-53zM1257 2891h106v13h-106zM1469 2891h212v13h-212zM1734 2891h158v13h-158zM1734 2904h105v12h-105zM1469 2916h159v12h-159zM1416 2928h53v13h-53zM1575 2953h106v13h-106zM1734 2953h211v13h-211zM1628 2966h158v12h-158zM1945 2966h53v12h-53zM1416 2978h53v12h-53zM1628 2978h317v12h-317zM1786 2990h53v13h-53zM1681 3003h105v12h-105z" fill="#1C86EE"/><path d="M1205 3009H1217M1205 2959H1217M1205 2897H1217M1205 2836H1217M1205 2774H1217M1205 2712H1217M1205 2650H1217M1205 2588H1217M1205 2526H1217M1205 2465H1217M1205 2403H1217M1400 3047V3057M1612 3047V3057M1824 3047V3057M2035 3047V3057" stroke="#333" stroke-width="4" fill="none"/><path d="M1217 2365H2092V3047H1217z M1219 2367V3044H2089V2367z" fill="#303030" fill-rule="evenodd"/></g>
<text class="ax" text-anchor="end" x="1195.8" y="3032.8">1</text><text class="ax" text-anchor="end" x="1195.8" y="2983.3">5</text><text class="ax" text-anchor="end" x="1195.8" y="2921.5">10</text><text class="ax" text-anchor="end" x="1195.8" y="2859.6">15</text><text class="ax" text-anchor="end" x="1195.8" y="2797.8">20</text><text class="ax" text-anchor="end" x="1195.8" y="2735.9">25</text><text class="ax" text-anchor="end" x="1195.8" y="2674.1">30</text><text class="ax" text-anchor="end" x="1195.8" y="2612.2">35</text><text class="ax" text-anchor="end" x="1195.8" y="2550.4">40</text><text class="ax" text-anchor="end" x="1195.8" y="2488.5">45</text><text class="ax" text-anchor="end" x="1195.8" y="2426.7">50</text><text class="ax" text-anchor="middle" x="1399.9" y="3113.7">2040</text><text class="ax" text-anchor="middle" x="1611.7" y="3113.7">2060</text><text class="ax" text-anchor="middle" x="1823.6" y="3113.7">2080</text><text class="ax" text-anchor="middle" x="2035.4" y="3113.7">2100</text>
<g shape-rendering="crispEdges"><path d="M2230 3034H3100.6M2230 2984H3100.6M2230 2928H3100.6M2230 2867H3100.6M2230 2805H3100.6M2230 2743H3100.6M2230 2681H3100.6M2230 2619H3100.6M2230 2557H3100.6M2230 2495H3100.6M2230 2434H3100.6M2230 2378H3100.6M2305 2367.2V3044.2M2517 2367.2V3044.2M2729 2367.2V3044.2M2941 2367.2V3044.2" stroke="#EBEBEB" stroke-width="2" fill="none"/><path d="M2230 3009H3100.6M2230 2959H3100.6M2230 2897H3100.6M2230 2836H3100.6M2230 2774H3100.6M2230 2712H3100.6M2230 2650H3100.6M2230 2588H3100.6M2230 2526H3100.6M2230 2465H3100.6M2230 2403H3100.6M2411 2367.2V3044.2M2623 2367.2V3044.2M2835 2367.2V3044.2M3047 2367.2V3044.2" stroke="#EBEBEB" stroke-width="4" fill="none"/><rect x="2268" y="2396" width="794" height="619" fill="#4A708B"/><path d="M2268 2396h159v13h-159zM2268 2409h371v12h-371zM2268 2421h265v13h-265zM2268 2434h212v12h-212zM2268 2446h53v12h-53zM2268 2458h318v13h-318zM2268 2471h265v12h-265zM2268 2483h424v12h-424zM2268 2495h265v13h-265zM2268 2508h106v12h-106zM2427 2508h318v12h-318zM2268 2520h265v13h-265zM2586 2520h106v13h-106zM2268 2533h636v12h-636zM2321 2545h53v12h-53zM2268 2557h212v13h-212zM2268 2570h212v12h-212zM2639 2570h106v12h-106zM2268 2582h106v12h-106zM2427 2582h53v12h-53zM2268 2594h159v13h-159zM2321 2607h424v12h-424zM2268 2619h53v13h-53zM2586 2619h53v13h-53zM2268 2632h53v12h-53zM2268 2644h106v12h-106zM2427 2644h53v12h-53zM2533 2644h212v12h-212zM2321 2669h53v12h-53zM2427 2669h53v12h-53zM2586 2669h53v12h-53zM2268 2681h424v12h-424zM2321 2693h53v13h-53zM2268 2706h106v12h-106zM2427 2706h159v12h-159zM2268 2718h106v12h-106zM2480 2718h318v12h-318zM2268 2730h159v13h-159zM2268 2743h265v12h-265zM2268 2755h371v13h-371zM2268 2768h265v12h-265zM2268 2780h212v12h-212zM2639 2780h212v12h-212zM2268 2792h371v13h-371zM2268 2817h318v12h-318zM2639 2817h53v12h-53zM2798 2817h53v12h-53zM2268 2829h265v13h-265zM2268 2842h159v12h-159zM2533 2842h53v12h-53zM2639 2842h106v12h-106zM2268 2854h106v13h-106zM2268 2867h53v12h-53zM2374 2867h318v12h-318zM2268 2879h212v12h-212zM2533 2879h53v12h-53zM2639 2879h53v12h-53zM2268 2891h106v13h-106zM2427 2891h212v13h-212zM2268 2904h265v12h-265zM2268 2916h371v12h-371zM2321 2928h53v13h-53zM2427 2928h53v13h-53zM2268 2941h530v12h-530zM2268 2953h477v13h-477zM2268 2966h424v12h-424zM2268 2978h159v12h-159zM2268 2990h53v13h-53zM2427 2990h53v13h-53zM2639 2990h53v13h-53zM2268 3003h424v12h-424z" fill="#D9D9D9"/><path d="M2427 2396h106v13h-106zM2321 2446h53v12h-53zM2586 2458h53v13h-53zM2586 2471h53v12h-53zM2639 2495h53v13h-53zM2745 2495h53v13h-53zM2745 2508h53v12h-53zM2692 2520h53v13h-53zM2904 2533h53v12h-53zM2268 2545h53v12h-53zM2374 2545h53v12h-53zM2533 2545h53v12h-53zM2480 2557h53v13h-53zM2586 2557h53v13h-53zM2480 2570h106v12h-106zM2374 2582h53v12h-53zM2480 2582h53v12h-53zM2427 2594h53v13h-53zM2268 2607h53v12h-53zM2321 2619h53v13h-53zM2427 2619h106v13h-106zM2374 2644h53v12h-53zM2480 2644h53v12h-53zM2268 2656h106v13h-106zM2374 2669h53v12h-53zM2480 2669h106v12h-106zM2639 2669h159v12h-159zM2692 2681h106v12h-106zM2374 2706h53v12h-53zM2639 2706h53v12h-53zM2745 2706h53v12h-53zM2374 2718h106v12h-106zM2533 2768h53v12h-53zM2533 2780h53v12h-53zM2639 2792h53v13h-53zM2586 2817h53v12h-53zM2692 2817h106v12h-106zM2533 2829h53v13h-53zM2427 2842h106v12h-106zM2374 2854h53v13h-53zM2692 2867h53v12h-53zM2480 2879h53v12h-53zM2586 2879h53v12h-53zM2374 2891h53v13h-53zM2639 2891h53v13h-53zM2268 2928h53v13h-53zM2374 2928h53v13h-53zM2480 2928h53v13h-53zM2798 2941h106v12h-106zM2374 2990h53v13h-53zM2480 2990h53v13h-53zM2586 2990h53v13h-53zM2957 3003h53v12h-53z" fill="#87CEEB"/><path d="M2533 2396h212v13h-212zM2851 2396h53v13h-53zM2639 2409h53v12h-53zM2798 2409h53v12h-53zM2533 2421h53v13h-53zM2798 2421h53v13h-53zM2480 2434h53v12h-53zM2374 2446h53v12h-53zM2639 2458h53v13h-53zM2533 2471h53v12h-53zM2692 2483h106v12h-106zM2533 2495h106v13h-106zM2692 2495h53v13h-53zM2798 2495h53v13h-53zM2374 2508h53v12h-53zM2798 2508h53v12h-53zM2533 2520h53v13h-53zM2957 2533h105v12h-105zM2427 2545h106v12h-106zM2639 2545h53v12h-53zM2533 2557h53v13h-53zM2639 2557h212v13h-212zM2586 2570h53v12h-53zM2745 2570h106v12h-106zM2533 2582h106v12h-106zM2798 2582h212v12h-212zM2480 2594h53v13h-53zM2745 2607h106v12h-106zM2957 2607h53v12h-53zM2374 2619h53v13h-53zM2533 2619h53v13h-53zM2639 2619h159v13h-159zM2321 2632h159v12h-159zM2745 2644h53v12h-53zM2904 2644h53v12h-53zM2374 2656h106v13h-106zM2268 2669h53v12h-53zM2798 2669h53v12h-53zM2798 2681h53v12h-53zM2374 2693h106v13h-106zM2533 2693h53v13h-53zM2692 2693h53v13h-53zM2586 2706h53v12h-53zM2692 2706h53v12h-53zM2798 2706h106v12h-106zM2798 2718h159v12h-159zM2427 2730h159v13h-159zM2533 2743h106v12h-106zM2745 2755h106v13h-106zM2586 2768h159v12h-159zM2480 2780h53v12h-53zM2586 2780h53v12h-53zM2851 2780h53v12h-53zM2957 2780h53v12h-53zM2692 2792h53v13h-53zM2851 2817h159v12h-159zM2586 2842h53v12h-53zM2745 2842h212v12h-212zM2427 2854h106v13h-106zM2321 2867h53v12h-53zM2692 2879h53v12h-53zM2692 2891h159v13h-159zM2533 2904h212v12h-212zM2639 2916h159v12h-159zM2586 2928h106v13h-106zM2904 2941h53v12h-53zM2745 2953h106v13h-106zM2904 2953h53v13h-53zM2745 2966h159v12h-159zM2427 2978h318v12h-318zM2798 2978h53v12h-53zM2321 2990h53v13h-53zM2533 2990h53v13h-53zM2692 2990h106v13h-106zM2692 3003h212v12h-212zM3010 3003h52v12h-52z" fill="#7EC0EE"/><path d="M2216 3009H2228M2216 2959H2228M2216 2897H2228M2216 2836H2228M2216 2774H2228M2216 2712H2228M2216 2650H2228M2216 2588H2228M2216 2526H2228M2216 2465H2228M2216 2403H2228M2411 3047V3057M2623 3047V3057M2835 3047V3057M3047 3047V3057" stroke="#333" stroke-width="4" fill="none"/><path d="M2228 2365H3104V3047H2228z M2230 2367V3044H3101V2367z" fill="#303030" fill-rule="evenodd"/></g>
<text class="ax" text-anchor="end" x="2207" y="3032.8">1</text><text class="ax" text-anchor="end" x="2207" y="2983.3">5</text><text class="ax" text-anchor="end" x="2207" y="2921.5">10</text><text class="ax" text-anchor="end" x="2207" y="2859.6">15</text><text class="ax" text-anchor="end" x="2207" y="2797.8">20</text><text class="ax" text-anchor="end" x="2207" y="2735.9">25</text><text class="ax" text-anchor="end" x="2207" y="2674.1">30</text><text class="ax" text-anchor="end" x="2207" y="2612.2">35</text><text class="ax" text-anchor="end" x="2207" y="2550.4">40</text><text class="ax" text-anchor="end" x="2207" y="2488.5">45</text><text class="ax" text-anchor="end" x="2207" y="2426.7">50</text><text class="ax" text-anchor="middle" x="2411.1" y="3113.7">2040</text><text class="ax" text-anchor="middle" x="2622.9" y="3113.7">2060</text><text class="ax" text-anchor="middle" x="2834.8" y="3113.7">2080</text><text class="ax" text-anchor="middle" x="3046.6" y="3113.7">2100</text>
<g shape-rendering="crispEdges"><path d="M3240.2 3034H4110.8M3240.2 2984H4110.8M3240.2 2928H4110.8M3240.2 2867H4110.8M3240.2 2805H4110.8M3240.2 2743H4110.8M3240.2 2681H4110.8M3240.2 2619H4110.8M3240.2 2557H4110.8M3240.2 2495H4110.8M3240.2 2434H4110.8M3240.2 2378H4110.8M3315 2367.2V3044.2M3527 2367.2V3044.2M3739 2367.2V3044.2M3951 2367.2V3044.2" stroke="#EBEBEB" stroke-width="2" fill="none"/><path d="M3240.2 3009H4110.8M3240.2 2959H4110.8M3240.2 2897H4110.8M3240.2 2836H4110.8M3240.2 2774H4110.8M3240.2 2712H4110.8M3240.2 2650H4110.8M3240.2 2588H4110.8M3240.2 2526H4110.8M3240.2 2465H4110.8M3240.2 2403H4110.8M3421 2367.2V3044.2M3633 2367.2V3044.2M3845 2367.2V3044.2M4057 2367.2V3044.2" stroke="#EBEBEB" stroke-width="4" fill="none"/><rect x="3278" y="2396" width="795" height="619" fill="#D9D9D9"/><path d="M3331 2396h159v13h-159zM3543 2396h53v13h-53zM3278 2409h53v12h-53zM3490 2409h159v12h-159zM3596 2421h106v13h-106zM3437 2434h106v12h-106zM3490 2446h53v12h-53zM3649 2446h53v12h-53zM3808 2446h106v12h-106zM3543 2458h53v13h-53zM3543 2471h53v12h-53zM3914 2483h53v12h-53zM3384 2495h53v13h-53zM3543 2508h106v12h-106zM3808 2508h53v12h-53zM4020 2533h53v12h-53zM3490 2545h53v12h-53zM3649 2545h53v12h-53zM3331 2557h159v13h-159zM3543 2557h53v13h-53zM3755 2557h53v13h-53zM3596 2570h53v12h-53zM3808 2570h159v12h-159zM3490 2582h106v12h-106zM3861 2582h53v12h-53zM3755 2607h53v12h-53zM3861 2607h53v12h-53zM3861 2619h106v13h-106zM3490 2632h53v12h-53zM3914 2644h53v12h-53zM3331 2656h53v13h-53zM3649 2656h106v13h-106zM3861 2669h53v12h-53zM4020 2681h53v12h-53zM3967 2706h53v12h-53zM3384 2718h53v12h-53zM3649 2718h53v12h-53zM3861 2718h53v12h-53zM3702 2730h53v13h-53zM3331 2743h53v12h-53zM3437 2743h53v12h-53zM3596 2755h53v13h-53zM3914 2768h53v12h-53zM3384 2792h53v13h-53zM3543 2792h53v13h-53zM3278 2805h53v12h-53zM3437 2805h53v12h-53zM3596 2805h53v12h-53zM3596 2817h53v12h-53zM3808 2817h53v12h-53zM3596 2829h106v13h-106zM3755 2829h53v13h-53zM3649 2854h106v13h-106zM3914 2854h53v13h-53zM3755 2867h106v12h-106zM3649 2879h53v12h-53zM3755 2879h53v12h-53zM3278 2891h53v13h-53zM3490 2891h53v13h-53zM3596 2891h53v13h-53zM3755 2891h53v13h-53zM3331 2904h106v12h-106zM3649 2904h53v12h-53zM3808 2904h159v12h-159zM3437 2953h53v13h-53zM3596 2953h53v13h-53zM3967 2978h53v12h-53zM3702 2990h53v13h-53z" fill="#87CEEB"/><path d="M3490 2396h53v13h-53zM3914 2396h53v13h-53zM3278 2421h53v13h-53zM3914 2421h53v13h-53zM3596 2434h53v12h-53zM3596 2446h53v12h-53zM3702 2446h106v12h-106zM3914 2446h53v12h-53zM4020 2446h53v12h-53zM3596 2458h212v13h-212zM3967 2458h53v13h-53zM3437 2471h106v12h-106zM3649 2471h53v12h-53zM3967 2483h106v12h-106zM3543 2495h53v13h-53zM3649 2495h265v13h-265zM3967 2495h106v13h-106zM3278 2508h265v12h-265zM3861 2508h159v12h-159zM3861 2520h53v13h-53zM3702 2545h53v12h-53zM3490 2557h53v13h-53zM3808 2557h106v13h-106zM3967 2570h106v12h-106zM3649 2582h212v12h-212zM3914 2582h159v12h-159zM3755 2594h159v13h-159zM3967 2594h53v13h-53zM3914 2607h53v12h-53zM3967 2619h106v13h-106zM3437 2632h53v12h-53zM3649 2632h53v12h-53zM3649 2644h106v12h-106zM3861 2644h53v12h-53zM3967 2644h106v12h-106zM3490 2656h53v13h-53zM3755 2656h106v13h-106zM3914 2669h159v12h-159zM3278 2693h53v13h-53zM4020 2693h53v13h-53zM4020 2706h53v12h-53zM3808 2718h53v12h-53zM3914 2718h106v12h-106zM3490 2743h53v12h-53zM3596 2743h318v12h-318zM3649 2755h53v13h-53zM3808 2755h53v13h-53zM3967 2768h106v12h-106zM3861 2780h212v12h-212zM3649 2792h53v13h-53zM3490 2805h53v12h-53zM3649 2805h53v12h-53zM3437 2817h53v12h-53zM3543 2817h53v12h-53zM3861 2817h106v12h-106zM3543 2829h53v13h-53zM3808 2829h106v13h-106zM3967 2829h53v13h-53zM3755 2854h53v13h-53zM3967 2854h106v13h-106zM3861 2867h106v12h-106zM3702 2879h53v12h-53zM3808 2879h159v12h-159zM3331 2891h53v13h-53zM3437 2891h53v13h-53zM3649 2891h106v13h-106zM3808 2891h212v13h-212zM3755 2904h53v12h-53zM3490 2916h159v12h-159zM3702 2916h212v12h-212zM3437 2928h106v13h-106zM3649 2953h53v13h-53zM3755 2953h318v13h-318zM4020 2978h53v12h-53zM3331 2990h53v13h-53zM3808 3003h106v12h-106zM3967 3003h106v12h-106z" fill="#7EC0EE"/><path d="M3967 2396h106v13h-106zM3649 2409h424v12h-424zM3967 2421h106v13h-106zM3543 2434h53v12h-53zM3649 2434h424v12h-424zM3967 2446h53v12h-53zM3808 2458h159v13h-159zM4020 2458h53v13h-53zM3702 2471h371v12h-371zM3596 2495h53v13h-53zM3914 2495h53v13h-53zM4020 2508h53v12h-53zM3914 2520h159v13h-159zM3755 2545h318v12h-318zM3914 2557h159v13h-159zM3914 2594h53v13h-53zM4020 2594h53v13h-53zM3967 2607h106v12h-106zM3543 2632h106v12h-106zM3702 2632h371v12h-371zM3755 2644h106v12h-106zM3278 2656h53v13h-53zM3861 2656h212v13h-212zM4020 2718h53v12h-53zM3755 2730h318v13h-318zM3543 2743h53v12h-53zM3914 2743h159v12h-159zM3702 2755h106v13h-106zM3861 2755h212v13h-212zM3702 2792h371v13h-371zM3702 2805h371v12h-371zM3967 2817h106v12h-106zM3914 2829h53v13h-53zM4020 2829h53v13h-53zM3967 2867h106v12h-106zM3967 2879h106v12h-106zM3384 2891h53v13h-53zM4020 2891h53v13h-53zM3649 2916h53v12h-53zM3914 2916h159v12h-159zM3543 2928h530v13h-530zM3702 2953h53v13h-53zM3808 2990h265v13h-265zM3914 3003h53v12h-53z" fill="#4A708B"/><path d="M3226 3009H3238M3226 2959H3238M3226 2897H3238M3226 2836H3238M3226 2774H3238M3226 2712H3238M3226 2650H3238M3226 2588H3238M3226 2526H3238M3226 2465H3238M3226 2403H3238M3421 3047V3057M3633 3047V3057M3845 3047V3057M4057 3047V3057" stroke="#333" stroke-width="4" fill="none"/><path d="M3238 2365H4114V3047H3238z M3240 2367V3044H4111V2367z" fill="#303030" fill-rule="evenodd"/></g>
<text class="ax" text-anchor="end" x="3217.2" y="3032.8">1</text><text class="ax" text-anchor="end" x="3217.2" y="2983.3">5</text><text class="ax" text-anchor="end" x="3217.2" y="2921.5">10</text><text class="ax" text-anchor="end" x="3217.2" y="2859.6">15</text><text class="ax" text-anchor="end" x="3217.2" y="2797.8">20</text><text class="ax" text-anchor="end" x="3217.2" y="2735.9">25</text><text class="ax" text-anchor="end" x="3217.2" y="2674.1">30</text><text class="ax" text-anchor="end" x="3217.2" y="2612.2">35</text><text class="ax" text-anchor="end" x="3217.2" y="2550.4">40</text><text class="ax" text-anchor="end" x="3217.2" y="2488.5">45</text><text class="ax" text-anchor="end" x="3217.2" y="2426.7">50</text><text class="ax" text-anchor="middle" x="3421.3" y="3113.7">2040</text><text class="ax" text-anchor="middle" x="3633.1" y="3113.7">2060</text><text class="ax" text-anchor="middle" x="3845" y="3113.7">2080</text><text class="ax" text-anchor="middle" x="4056.8" y="3113.7">2100</text>
<rect x="230" y="1298" width="3762" height="1" fill="#fff" shape-rendering="crispEdges"/>
<text class="hd" x="740.9" y="93.4">ENG</text><text class="hd" x="1659" y="93.4">WFJ</text><text class="hd" x="2577.2" y="93.4">ENG</text><text class="hd" x="3466.2" y="93.4">WFJ</text>
<text class="tt" x="195.9" y="190.5">(a) Winter mean temperature (pos. trend)</text><text class="tt" x="2211.6" y="190.5">(b)<tspan dx="-9"> Winter precipitation sums (pos. trend)</tspan></text><text class="tt" x="236.8" y="1266.0">(c) Winter snowfall fraction (neg. trend)</text><text class="tt" x="2304.4" y="1266.0">(d) Winter snowfall sums (neg. trend)</text><text class="tt" x="214" y="2330.5">(e) Winter mean snow depth (neg. trend)</text><text class="tt" x="2259.4" y="2330.5">(f) Winter max. snow depth (neg. trend)</text>
<text transform="translate(79,1652.2) rotate(-90)" style="font-size:82.2px;font-weight:bold" text-anchor="middle">ClimEx member</text>
<text class="lg" x="283.5" y="1121.4" textLength="532">Sign. p value (MK)</text><rect x="830" y="1038" width="117" height="117" fill="#CD5B45" shape-rendering="crispEdges"/><text class="lp" transform="translate(979,1121.4) scale(1,1.08)">1%</text><rect x="1101" y="1038" width="117" height="117" fill="#F08080" shape-rendering="crispEdges"/><text class="lp" transform="translate(1247.5,1121.4) scale(1,1.08)">5%</text><rect x="1372" y="1038" width="117" height="117" fill="#F0E68C" shape-rendering="crispEdges"/><text class="lp" transform="translate(1520,1121.4) scale(1,1.08)">10%</text><rect x="1677" y="1038" width="117" height="117" fill="#D9D9D9" shape-rendering="crispEdges"/><text class="lg" style="font-size:64px" x="1822" y="1121.4" textLength="101.5">Not</text>
<text class="lg" x="2308" y="1121.4" textLength="528.7">Sign. p value (MK)</text><rect x="2851" y="1038" width="117" height="117" fill="#548B54" shape-rendering="crispEdges"/><text class="lp" transform="translate(3000.2,1121.4) scale(1,1.08)">1%</text><rect x="3122" y="1038" width="117" height="117" fill="#90EE90" shape-rendering="crispEdges"/><text class="lp" transform="translate(3268.7,1121.4) scale(1,1.08)">5%</text><rect x="3393" y="1038" width="117" height="117" fill="#98FB98" shape-rendering="crispEdges"/><text class="lp" transform="translate(3541.2,1121.4) scale(1,1.08)">10%</text><rect x="3698" y="1038" width="117" height="117" fill="#D9D9D9" shape-rendering="crispEdges"/><text class="lg" style="font-size:64px" x="3838.2" y="1121.4" textLength="101.5">Not</text>
<text class="lg" x="283.5" y="2188.4" textLength="532">Sign. p value (MK)</text><rect x="830" y="2105" width="117" height="117" fill="#473C8B" shape-rendering="crispEdges"/><text class="lp" transform="translate(979,2188.4) scale(1,1.08)">1%</text><rect x="1101" y="2105" width="117" height="117" fill="#6A5ACD" shape-rendering="crispEdges"/><text class="lp" transform="translate(1247.5,2188.4) scale(1,1.08)">5%</text><rect x="1372" y="2105" width="117" height="117" fill="#8470FF" shape-rendering="crispEdges"/><text class="lp" transform="translate(1520,2188.4) scale(1,1.08)">10%</text><rect x="1677" y="2105" width="117" height="117" fill="#D9D9D9" shape-rendering="crispEdges"/><text class="lg" style="font-size:64px" x="1822" y="2188.4" textLength="101.5">Not</text>
<text class="lg" x="2308" y="2188.4" textLength="528.7">Sign. p value (MK)</text><rect x="2851" y="2105" width="117" height="117" fill="#1A1A1A" shape-rendering="crispEdges"/><text class="lp" transform="translate(3000.2,2188.4) scale(1,1.08)">1%</text><rect x="3122" y="2105" width="117" height="117" fill="#4D4D4D" shape-rendering="crispEdges"/><text class="lp" transform="translate(3268.7,2188.4) scale(1,1.08)">5%</text><rect x="3393" y="2105" width="117" height="117" fill="#999999" shape-rendering="crispEdges"/><text class="lp" transform="translate(3541.2,2188.4) scale(1,1.08)">10%</text><rect x="3698" y="2105" width="117" height="117" fill="#D9D9D9" shape-rendering="crispEdges"/><text class="lg" style="font-size:64px" x="3838.2" y="2188.4" textLength="101.5">Not</text>
<text class="lg" x="283.5" y="3255.6" textLength="532">Sign. p value (MK)</text><rect x="830" y="3172" width="117" height="117" fill="#104E8B" shape-rendering="crispEdges"/><text class="lp" transform="translate(979,3255.6) scale(1,1.08)">1%</text><rect x="1101" y="3172" width="117" height="117" fill="#1C86EE" shape-rendering="crispEdges"/><text class="lp" transform="translate(1247.5,3255.6) scale(1,1.08)">5%</text><rect x="1372" y="3172" width="117" height="117" fill="#1E90FF" shape-rendering="crispEdges"/><text class="lp" transform="translate(1520,3255.6) scale(1,1.08)">10%</text><rect x="1677" y="3172" width="117" height="117" fill="#D9D9D9" shape-rendering="crispEdges"/><text class="lg" style="font-size:64px" x="1822" y="3255.6" textLength="101.5">Not</text>
<text class="lg" x="2308" y="3255.6" textLength="528.7">Sign. p value (MK)</text><rect x="2851" y="3172" width="117" height="117" fill="#4A708B" shape-rendering="crispEdges"/><text class="lp" transform="translate(3000.2,3255.6) scale(1,1.08)">1%</text><rect x="3122" y="3172" width="117" height="117" fill="#7EC0EE" shape-rendering="crispEdges"/><text class="lp" transform="translate(3268.7,3255.6) scale(1,1.08)">5%</text><rect x="3393" y="3172" width="117" height="117" fill="#87CEEB" shape-rendering="crispEdges"/><text class="lp" transform="translate(3541.2,3255.6) scale(1,1.08)">10%</text><rect x="3698" y="3172" width="117" height="117" fill="#D9D9D9" shape-rendering="crispEdges"/><text class="lg" style="font-size:64px" x="3838.2" y="3255.6" textLength="101.5">Not</text>
</svg>
</body></html>
